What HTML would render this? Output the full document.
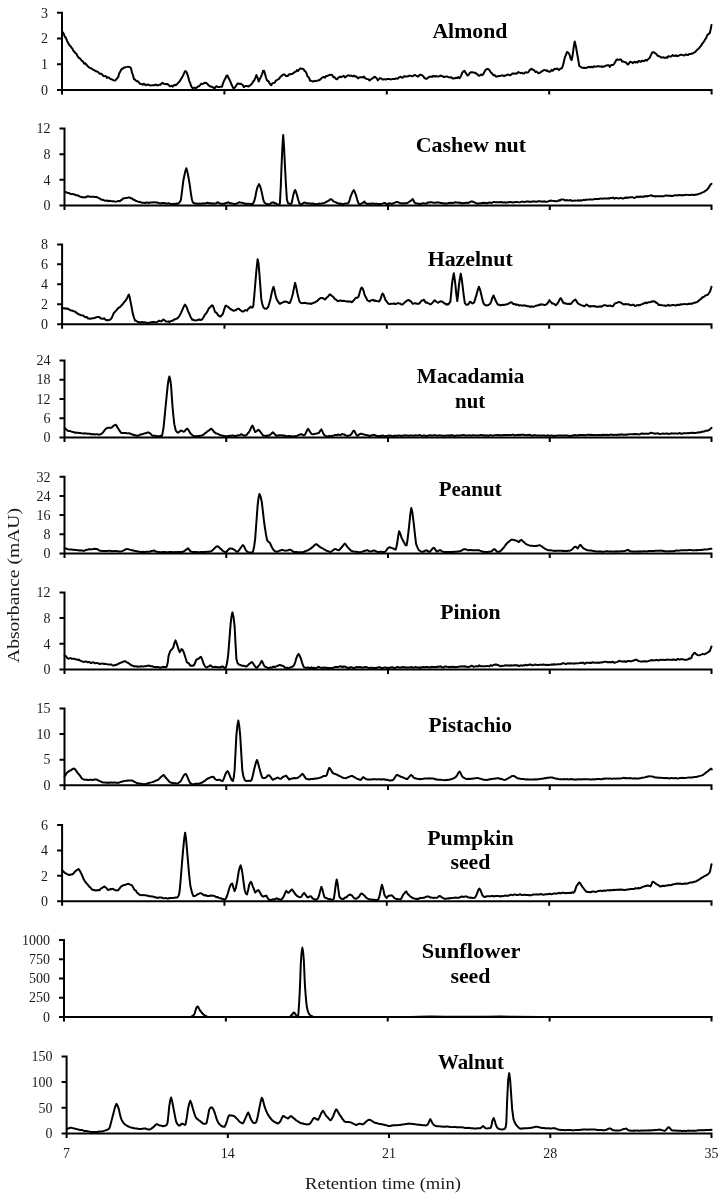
<!DOCTYPE html><html><head><meta charset="utf-8"><style>html,body{margin:0;padding:0;background:#fff;}svg{display:block;}text{}svg{filter:grayscale(1)}</style></head><body>
<svg width="724" height="1200" viewBox="0 0 724 1200">
<rect width="724" height="1200" fill="#fff"/>
<path d="M62 11.8V89.9M57 89.9H712.6M57 64.2H62M57 38.5H62M57 12.8H62M62 89.9V94.5M224.4 89.9V94.5M386.8 89.9V94.5M549.2 89.9V94.5M711.6 89.9V94.5M64.5 127.5V205.5M59.5 205.5H712.5M59.5 179.83H64.5M59.5 154.17H64.5M59.5 128.5H64.5M64.5 205.5V210.1M226.25 205.5V210.1M388 205.5V210.1M549.75 205.5V210.1M711.5 205.5V210.1M62.1 243.4V324.2M57.1 324.2H712.5M57.1 304.25H62.1M57.1 284.3H62.1M57.1 264.35H62.1M57.1 244.4H62.1M62.1 324.2V328.8M224.45 324.2V328.8M386.8 324.2V328.8M549.15 324.2V328.8M711.5 324.2V328.8M64.5 359.4V437.5M59.5 437.5H712.5M59.5 418.23H64.5M59.5 398.95H64.5M59.5 379.67H64.5M59.5 360.4H64.5M64.5 437.5V442.1M226.25 437.5V442.1M388 437.5V442.1M549.75 437.5V442.1M711.5 437.5V442.1M64.5 475.8V553.4M59.5 553.4H712.5M59.5 534.25H64.5M59.5 515.1H64.5M59.5 495.95H64.5M59.5 476.8H64.5M64.5 553.4V558M226.25 553.4V558M388 553.4V558M549.75 553.4V558M711.5 553.4V558M64.5 591.4V669.5M59.5 669.5H712.5M59.5 643.8H64.5M59.5 618.1H64.5M59.5 592.4H64.5M64.5 669.5V674.1M226.25 669.5V674.1M388 669.5V674.1M549.75 669.5V674.1M711.5 669.5V674.1M64.5 707.4V785.3M59.5 785.3H712.5M59.5 759.67H64.5M59.5 734.03H64.5M59.5 708.4H64.5M64.5 785.3V789.9M226.25 785.3V789.9M388 785.3V789.9M549.75 785.3V789.9M711.5 785.3V789.9M62.1 824V901.2M57.1 901.2H712.5M57.1 875.8H62.1M57.1 850.4H62.1M57.1 825H62.1M62.1 901.2V905.8M224.45 901.2V905.8M386.8 901.2V905.8M549.15 901.2V905.8M711.5 901.2V905.8M64 939V1017M59 1017H712.5M59 997.75H64M59 978.5H64M59 959.25H64M59 940H64M64 1017V1021.6M225.88 1017V1021.6M387.75 1017V1021.6M549.62 1017V1021.6M711.5 1017V1021.6M66.6 1055.4V1133.5M61.6 1133.5H712.5M61.6 1107.8H66.6M61.6 1082.1H66.6M61.6 1056.4H66.6M66.6 1133.5V1138.1M227.82 1133.5V1138.1M389.05 1133.5V1138.1M550.27 1133.5V1138.1M711.5 1133.5V1138.1" stroke="#000" stroke-width="2" fill="none"/>
<g class="t" font-family="Liberation Serif" font-size="14" fill="#1a1a1a"><text x="48" y="94.6" text-anchor="end">0</text><text x="48" y="68.9" text-anchor="end">1</text><text x="48" y="43.2" text-anchor="end">2</text><text x="48" y="17.5" text-anchor="end">3</text><text x="50.5" y="210.2" text-anchor="end">0</text><text x="50.5" y="184.53" text-anchor="end">4</text><text x="50.5" y="158.87" text-anchor="end">8</text><text x="50.5" y="133.2" text-anchor="end">12</text><text x="48.1" y="328.9" text-anchor="end">0</text><text x="48.1" y="308.95" text-anchor="end">2</text><text x="48.1" y="289" text-anchor="end">4</text><text x="48.1" y="269.05" text-anchor="end">6</text><text x="48.1" y="249.1" text-anchor="end">8</text><text x="50.5" y="442.2" text-anchor="end">0</text><text x="50.5" y="422.93" text-anchor="end">6</text><text x="50.5" y="403.65" text-anchor="end">12</text><text x="50.5" y="384.37" text-anchor="end">18</text><text x="50.5" y="365.1" text-anchor="end">24</text><text x="50.5" y="558.1" text-anchor="end">0</text><text x="50.5" y="538.95" text-anchor="end">8</text><text x="50.5" y="519.8" text-anchor="end">16</text><text x="50.5" y="500.65" text-anchor="end">24</text><text x="50.5" y="481.5" text-anchor="end">32</text><text x="50.5" y="674.2" text-anchor="end">0</text><text x="50.5" y="648.5" text-anchor="end">4</text><text x="50.5" y="622.8" text-anchor="end">8</text><text x="50.5" y="597.1" text-anchor="end">12</text><text x="50.5" y="790" text-anchor="end">0</text><text x="50.5" y="764.37" text-anchor="end">5</text><text x="50.5" y="738.73" text-anchor="end">10</text><text x="50.5" y="713.1" text-anchor="end">15</text><text x="48.1" y="905.9" text-anchor="end">0</text><text x="48.1" y="880.5" text-anchor="end">2</text><text x="48.1" y="855.1" text-anchor="end">4</text><text x="48.1" y="829.7" text-anchor="end">6</text><text x="50" y="1021.7" text-anchor="end">0</text><text x="50" y="1002.45" text-anchor="end">250</text><text x="50" y="983.2" text-anchor="end">500</text><text x="50" y="963.95" text-anchor="end">750</text><text x="50" y="944.7" text-anchor="end">1000</text><text x="52.6" y="1138.2" text-anchor="end">0</text><text x="52.6" y="1112.5" text-anchor="end">50</text><text x="52.6" y="1086.8" text-anchor="end">100</text><text x="52.6" y="1061.1" text-anchor="end">150</text>
<text x="66.6" y="1158.3" text-anchor="middle">7</text>
<text x="227.82" y="1158.3" text-anchor="middle">14</text>
<text x="389.05" y="1158.3" text-anchor="middle">21</text>
<text x="550.27" y="1158.3" text-anchor="middle">28</text>
<text x="711.5" y="1158.3" text-anchor="middle">35</text>
</g>
<g class="t" font-family="Liberation Serif" font-weight="bold" font-size="22" fill="#000"><text x="432.4" y="38" textLength="75" lengthAdjust="spacingAndGlyphs">Almond</text><text x="415.65" y="151.9" textLength="110.5" lengthAdjust="spacingAndGlyphs">Cashew nut</text><text x="427.7" y="265.5" textLength="85" lengthAdjust="spacingAndGlyphs">Hazelnut</text><text x="416.85" y="382.8" textLength="107.5" lengthAdjust="spacingAndGlyphs">Macadamia</text><text x="455.1" y="408" textLength="30" lengthAdjust="spacingAndGlyphs">nut</text><text x="438.7" y="495.5" textLength="63" lengthAdjust="spacingAndGlyphs">Peanut</text><text x="440.15" y="619.2" textLength="60.5" lengthAdjust="spacingAndGlyphs">Pinion</text><text x="428.55" y="731.9" textLength="83.5" lengthAdjust="spacingAndGlyphs">Pistachio</text><text x="427.15" y="844.8" textLength="86.5" lengthAdjust="spacingAndGlyphs">Pumpkin</text><text x="450.4" y="869" textLength="40" lengthAdjust="spacingAndGlyphs">seed</text><text x="421.85" y="957.8" textLength="98.5" lengthAdjust="spacingAndGlyphs">Sunflower</text><text x="450.4" y="982.6" textLength="40" lengthAdjust="spacingAndGlyphs">seed</text><text x="438" y="1069.2" textLength="66" lengthAdjust="spacingAndGlyphs">Walnut</text></g>
<g class="t" font-family="Liberation Serif" font-size="17.5" fill="#1a1a1a">
<text x="305" y="1188.8" textLength="156" lengthAdjust="spacingAndGlyphs">Retention time (min)</text>
<text transform="translate(19.2 663) rotate(-90)" x="0" y="0" textLength="155" lengthAdjust="spacingAndGlyphs">Absorbance (mAU)</text>
</g>
<path d="M62.3 32L62.83 32.35L63.64 33.51L64.67 36.46L65.86 37.69L67.12 40.8L68.41 43.57L69.64 45.41L70.76 46.5L71.7 47.98L72.4 48.53L73.24 50.75L74.2 51.38L75.25 53.08L76.36 53.58L77.5 56.19L78.65 57.59L79.77 58.39L80.85 59.5L81.85 60.77L82.74 61.48L83.5 62.39L84.25 63.68L85.13 63.29L86.1 64.26L87.14 65.52L88.23 66.69L89.35 67.59L90.47 68.15L91.56 68.56L92.6 69.36L93.57 70.01L94.45 70.12L95.2 70.89L95.96 71.27L96.85 71.41L97.85 71.87L98.93 72.94L100.05 73.87L101.2 73.62L102.34 74.65L103.45 76.09L104.5 76.13L105.46 75.95L106.3 76.61L107 77.93L107.92 77.22L109.01 77.62L110.2 78.93L111.44 79.17L112.68 79.8L113.84 80.36L114.89 80.62L115.76 80.04L116.4 79.12L117.45 77.89L118.36 76.78L119.16 73.3L119.9 72.37L120.68 70.63L121.73 68.93L122.86 68.57L123.88 67.6L124.6 67.58L125.87 67.12L127 66.9L127.95 66.62L129.15 66.91L130 67.13L131 68.22L131.73 71.65L132.5 73.99L133.18 75.96L134 79.15L134.8 79.33L135.91 80.74L137 81.43L137.72 81.04L138.68 82.14L139.79 83.52L140.99 83.96L142.2 84.23L142.8 84.8L143.58 83.73L144.51 83.95L145.56 85.32L146.69 84.86L147.87 84.53L149.05 84.97L150.21 85.4L151.31 85.39L152.32 85.14L153.19 85.13L153.9 85.32L154.8 84.97L155.83 84.49L156.94 85.34L158.11 85.38L159.29 84.64L160.44 84.8L161.51 83.35L162.48 82.86L163.3 83.3L164.14 84L165.15 83.93L166.29 84.25L167.49 83.94L168.71 85.09L169.9 86.14L170.99 86.16L171.95 85.67L172.7 86.62L173.61 85.63L174.66 84.72L175.78 85.35L176.92 84.27L177.99 83.05L178.94 81.81L179.7 81.48L180.58 79.64L181.65 77.99L182.8 75.99L183.92 73.55L184.89 71.42L185.6 71.11L186.5 71.98L187.48 74.69L188.39 77.39L189.1 80.58L190 82.55L191.05 85.77L192 87.44L192.82 88.11L193.92 87.75L195.11 87.86L196.2 88.09L196.91 87.39L197.87 86.57L198.99 86.3L200.17 85.14L201.32 83.67L202.36 83.92L203.2 83.68L204.04 83.05L205.09 82.8L206.25 82.91L207.45 83.92L208.58 85.55L209.56 85.73L210.3 86.51L211.19 86.46L212.16 87.14L213.15 87.32L214.12 88.46L215 87.88L215.76 86.62L216.79 86.22L217.98 87.02L219.21 86.89L220.37 86.78L221.34 86.56L222 86.7L223.37 82.32L224.4 80.08L225.33 78.5L226.52 75.74L227.5 75.57L228.47 77.82L229.64 80.02L230.6 82.15L231.51 84.55L232.62 86.75L233.6 88.44L234.45 87.94L235.58 86.7L236.72 84.72L237.6 83.44L238.4 83.45L239.37 83.93L240.33 83.71L241.1 84.04L241.88 84.43L242.85 85.16L243.85 87.16L244.7 86.49L245.45 86.07L246.46 86.09L247.54 86.2L248.55 86.56L249.3 85.74L250.15 85.36L251.15 84.41L252.12 83.55L252.9 81.63L254.03 80.76L255.38 77.91L256.4 75.06L257.6 77.91L258.7 81.5L259.87 78.86L261.1 76.45L262 74.36L263.16 70.83L264.1 70.71L264.99 73.71L266.07 77.72L267 80.35L267.71 80.94L268.62 81.46L269.6 83.45L270.5 84.48L271.24 85.23L272.27 83.39L273.45 82.89L274.63 82.66L275.66 80.89L276.4 80.46L277.3 79.81L278.28 79.25L279.19 78.6L279.9 77.54L280.83 76.31L281.93 75.72L282.9 74.8L283.75 74.34L284.88 74.71L286.02 76.12L286.9 75.97L287.68 76L288.62 74.84L289.57 74.13L290.4 74.32L291.16 74.04L292.19 73.96L293.3 73.15L294.33 72.38L295.1 71.94L295.96 71.52L296.97 70.16L297.95 71.01L298.7 70.18L299.64 69.01L300.73 68.46L301.7 68.73L302.55 68.66L303.68 69.37L304.82 71.18L305.7 71.67L306.48 73.3L307.42 76.19L308.37 77.08L309.2 77.99L309.95 80.64L310.95 80.69L312.05 81.13L313.08 81.57L313.9 81.26L314.7 80.78L315.71 81.15L316.79 80.87L317.8 80.53L318.6 80.32L319.38 80.28L320.33 79.33L321.37 78.42L322.39 77.35L323.3 77.06L324.05 77.1L325.05 77.66L326.2 75.92L327.41 75.89L328.58 75.32L329.61 74.83L330.4 74.92L331.27 74.64L332.3 75.21L333.4 77.29L334.49 77.07L335.45 78.37L336.2 79.13L337.04 79.32L338.03 77.88L339.06 77.24L340.05 76.6L340.9 77.31L341.67 76.64L342.67 76.43L343.8 75.9L344.93 77.41L345.97 76.87L346.8 75.97L347.63 75.57L348.67 75.34L349.8 75.85L350.93 75.58L351.93 75.96L352.7 76.38L353.55 75.86L354.54 75.61L355.57 76.78L356.56 76.51L357.4 77.78L358.16 78.35L359.14 77.47L360.25 77.35L361.36 77.33L362.38 77.18L363.2 77.48L364.03 76.47L365.06 78.15L366.2 78.69L367.32 79.04L368.33 79.18L369.1 80.24L369.92 80.43L370.86 79.29L371.85 78.79L372.85 78.05L373.8 77.44L374.51 76.79L375.46 77.19L376.57 78.14L377.77 80.39L378.99 79.13L380.15 78.07L381.18 78.51L382 79.03L382.79 79.59L383.74 79.26L384.8 79.27L385.9 79.47L387 79.1L388.03 78.95L388.95 78.9L389.7 79.08L390.54 79.38L391.55 79.33L392.66 78.92L393.79 79.02L394.89 79.04L395.88 78.35L396.7 78.56L397.51 78.66L398.49 77.76L399.58 77.18L400.72 76.75L401.84 77.64L402.89 77.5L403.8 76.49L404.57 76.29L405.54 76.48L406.67 76.47L407.88 76.23L409.13 75.73L410.34 75.76L411.46 76L412.44 76.34L413.2 76.12L414.11 75.1L415.16 75.02L416.28 75.75L417.42 76.47L418.49 76.43L419.44 75.03L420.2 74.67L421.05 74.94L422.03 75.25L423.1 76L424.17 77.61L425.2 78.45L426.1 78.88L426.84 78.57L427.79 78.05L428.88 76.97L430.05 76.82L431.24 76.58L432.38 76.76L433.43 75.82L434.3 76.55L435.09 76.49L436.06 76.02L437.16 76.39L438.34 76.53L439.55 76.07L440.74 75.52L441.87 76.15L442.87 76.32L443.7 77.02L444.54 76.94L445.55 76.62L446.69 76.41L447.89 76.96L449.11 77.21L450.3 77.58L451.39 77.2L452.35 78.34L453.1 78.6L454.02 78.22L455.09 78.22L456.24 77.78L457.39 77.89L458.47 77.14L459.4 78.18L460.1 77.6L461.21 75.42L462.42 72.49L463.54 71.15L464.4 70.82L465.46 72.36L466.64 74.29L467.6 75.58L468.53 75.12L469.66 73.07L470.7 72.22L471.42 72.51L472.39 72.17L473.47 72.64L474.52 72.85L475.4 72.65L476.17 73.63L477.16 74.09L478.27 75.44L479.4 75.72L480.45 74.8L481.3 74.55L482.05 75.14L483.01 74.56L484.08 72.59L485.18 70.49L486.23 69.55L487.13 68.9L487.8 69.02L488.78 69.46L489.83 70.61L490.86 72.54L491.8 73.18L492.51 74.07L493.45 75.29L494.51 74.92L495.63 76.44L496.72 76.37L497.7 76.52L498.42 75.99L499.35 75.99L500.44 75.9L501.63 75.44L502.87 75.45L504.08 76.16L505.23 75.44L506.26 75.34L507.1 74.69L507.93 74.51L508.92 74.86L510.02 75.27L511.2 74.57L512.4 73.37L513.58 73.68L514.68 73.42L515.67 73.53L516.5 73.65L517.34 72.98L518.36 72.12L519.5 72.66L520.72 73.15L521.95 72.74L523.14 73.62L524.23 73.42L525.17 72.28L525.9 72.52L526.91 72.44L528.04 72.45L529.23 70.75L530.37 69.36L531.39 68.83L532.2 69.57L533.12 69.77L534.19 70.19L535.35 71.99L536.51 71.52L537.6 72.44L538.33 73.23L539.32 72.98L540.48 72.42L541.75 71.35L543.05 70.55L544.3 69.9L545.43 70.33L546.35 70.8L547 70.32L548.22 71.39L549.14 71.43L550 71.75L550.72 71.19L551.69 69.85L552.77 70.89L553.82 69.46L554.7 68.87L555.5 69.18L556.57 68.52L557.75 68.97L558.92 69.95L559.92 69.19L560.6 68.38L561.83 68.33L562.9 65.71L563.72 62.29L564.87 57.39L566.03 54.65L566.9 51.98L567.95 52.34L569.14 53.77L570 56.05L570.8 59.13L571.6 59.97L572.51 56.05L573.74 46.91L574.7 41.57L575.89 46.17L577 52.8L578.09 58.85L579.3 66.07L579.94 66.17L580.79 67.09L581.79 67.56L582.9 67.76L583.55 67.97L584.45 67.77L585.52 68.05L586.72 67.86L587.98 67.21L589.23 66.83L590.4 67.4L591.45 66.81L592.3 66.98L593.12 67.36L594.1 66.28L595.2 66.53L596.36 66.69L597.55 66.23L598.72 66.27L599.83 66.5L600.84 66.46L601.7 66.92L602.42 66.37L603.31 66.74L604.31 66.59L605.4 65.68L606.53 65.57L607.67 65.18L608.79 65.25L609.83 66.84L610.77 65.34L611.58 64.92L612.2 65.11L613.22 65.03L614.31 63.52L615.4 61.67L616.45 59.8L617.37 59.52L618.1 59.82L618.96 59.78L619.97 59.53L621.03 59.54L622.01 61.58L622.8 61.2L623.58 61.74L624.54 61.88L625.57 62.51L626.59 62.98L627.5 64.5L628.23 64.3L629.2 63.03L630.31 61.79L631.48 62.11L632.63 63.1L633.67 62.27L634.5 61.73L635.32 62.56L636.34 61.96L637.47 62.56L638.63 60.92L639.76 61.41L640.78 61.94L641.6 60.97L642.44 60.75L643.48 61.2L644.64 60.77L645.82 59.93L646.94 60.55L647.89 59.27L648.6 58.8L649.63 58.06L650.72 55.34L651.75 53.34L652.6 52.21L653.53 52.21L654.72 52.9L655.89 53.76L656.8 54.58L657.57 55.74L658.48 55.93L659.44 56.18L660.4 56.92L661.08 57.62L661.99 57.59L663.07 57.33L664.23 57.62L665.39 57.91L666.47 57.24L667.4 57.78L668.15 56.16L669.11 56.35L670.2 56.65L671.39 56.27L672.61 55.14L673.81 55.95L674.95 55.83L675.96 55.24L676.8 56.2L677.63 56.07L678.63 55.52L679.76 55.22L680.95 54.63L682.16 54.89L683.34 55.38L684.44 55.33L685.41 54.64L686.2 54.29L687.07 54.97L688.12 54.99L689.26 53.93L690.45 54.13L691.62 53.6L692.71 53.49L693.66 52.88L694.4 52.39L695.31 52.02L696.36 50.6L697.45 49.5L698.53 48.71L699.5 47.55L700.3 46.46L701.13 45.81L702.17 43.75L703.3 42.49L704.41 40.77L705.38 38.94L706.1 38.35L707.04 35.44L708.07 34.36L709.03 33.65L709.7 33.17L710.76 29.08L711.5 24.91M65.2 192.3L65.72 192.16L66.57 192.24L67.62 193L68.77 192.88L69.91 193.56L70.92 194.06L71.7 194.13L72.54 194.01L73.57 194.31L74.68 194.41L75.78 195.2L76.79 195.2L77.6 195.61L78.43 195.49L79.47 196.42L80.6 196.85L81.73 197.01L82.73 197.26L83.5 197.49L84.32 197.32L85.26 197.16L86.25 197.14L87.25 196.36L88.2 196.32L88.92 196.54L89.9 196.73L91.06 196.83L92.3 196.8L93.54 196.74L94.7 196.89L95.68 197.02L96.4 196.94L97.35 197.43L98.35 197.93L99.34 198.37L100.28 198.89L101.1 199.5L101.82 199.87L102.72 199.71L103.74 200.12L104.83 200.72L105.94 200.68L107 200.52L107.63 200.71L108.45 201.24L109.43 200.83L110.52 200.89L111.69 201.34L112.9 201.31L114.11 201.46L115.27 201.61L116.35 201.65L117.31 201.36L118.11 200.97L118.7 200.94L119.8 201.19L120.82 200.19L121.76 199.92L122.62 198.98L123.4 198.31L124.18 198.4L125.2 198.09L126.35 198.06L127.5 197.81L128.52 197.56L129.3 197.43L130.15 197.77L131.14 198.27L132.17 198.44L133.16 199.48L134 199.79L134.73 199.97L135.65 200.89L136.69 200.99L137.78 201.6L138.84 201.91L139.8 201.8L140.54 202.18L141.51 202.66L142.66 202.72L143.91 202.74L145.19 202.98L146.43 202.46L147.55 202.5L148.5 203.06L149.2 202.77L150.22 202.49L151.25 202.51L152.25 202.51L153.15 202.35L153.9 202.17L154.65 202.2L155.55 202.42L156.55 202.47L157.58 202.49L158.6 203.11L159.28 203.32L160.2 203.18L161.28 203.46L162.47 203L163.72 202.93L164.95 203.23L166.12 203.58L167.15 203.5L168 203.53L168.85 203.25L169.9 203.64L171.08 204.01L172.33 203.93L173.58 203.66L174.78 204.1L175.86 203.74L176.75 203.48L177.4 203.96L178.49 203.42L179.46 202.58L180.27 201.32L180.9 199.88L182.12 190.62L183.3 180.99L184.21 176.27L185.36 170.96L186.3 168.31L187.18 170.87L188.23 175.96L189.1 180.85L189.99 186.66L191.09 194.79L192 199.8L192.73 201.98L193.67 202.97L195 203.59L195.55 203.43L196.31 203.55L197.24 203.8L198.3 203.66L199.43 203.57L200.61 203.8L201.78 203.64L202.91 203.29L203.95 203.64L204.86 203.62L205.6 203.27L206.49 202.98L207.57 202.79L208.77 202.97L210.03 203.44L211.29 203.31L212.47 203.53L213.53 203.39L214.39 203.58L215 203.53L216.46 203.24L217.3 202.33L218.38 202.53L219.7 203.26L220.46 203.77L221.55 203.81L222.76 203.82L223.88 203.78L224.7 203.92L225.53 203L226.46 203.03L227.39 202.76L228.2 202.21L228.92 202.58L229.87 203.21L230.93 203.28L231.97 203.52L232.9 203.87L233.65 203.85L234.65 203.94L235.8 203.67L237.01 203.36L238.18 202.79L239.21 202.37L240 202.37L240.85 202.65L241.84 202.67L242.9 202.99L243.96 203.24L244.95 203.46L245.8 204.18L246.61 203.77L247.67 203.67L248.88 203.83L250.12 204.04L251.28 204.31L252.24 203.96L252.9 203.78L254.28 201.04L255.2 197.59L256.17 192.29L257.1 188.27L258.04 185.89L259 184.13L260.03 185.99L261.1 189.39L262.24 194.62L263.4 200.28L264.49 202.6L265.8 203.48L266.52 204L267.55 204.37L268.7 204.28L269.75 204L270.5 203.6L271.52 202.77L272.62 202.49L273.5 202.37L274.39 203.15L275.47 203.23L276.4 203.74L277.18 204.53L278.21 204.86L279.21 204.91L279.9 203.07L280.78 186.43L281.5 167.02L282.34 148.05L283.2 135.08L284.09 148.36L285 166.91L285.92 184.27L286.9 199.44L288.08 203.23L289.3 203.54L290.48 204.1L291.6 203.17L292.47 199.18L293.3 195.11L294.19 191.86L295.1 189.95L296.02 191.94L297 195.13L298.16 199.5L299.4 203.47L300.25 203.67L301.32 204.26L302.2 203.86L303.08 203.24L304.15 202.7L305 202.58L305.98 202.92L307.3 203.44L307.89 203.58L308.74 203.24L309.75 203.37L310.85 203.87L311.96 203.49L313 203.37L313.9 204.31L314.67 204.11L315.68 204.11L316.86 204.15L318.13 203.88L319.43 203.58L320.67 203.68L321.77 203.51L322.68 203.34L323.3 203.27L324.79 202.89L325.7 202.15L326.56 201.76L327.64 201.2L328.5 200.89L329.67 199.76L330.8 199.21L331.97 199.62L333.2 201.12L334.12 201.57L335.28 202.05L336.2 202.56L337.28 202.94L338.6 203.4L339.28 203.98L340.27 203.5L341.42 203.79L342.59 203.98L343.63 204.12L344.4 203.69L345.45 203.62L346.68 203.39L347.84 203.46L348.7 202.47L349.66 200.01L350.69 196.31L351.5 194.44L352.67 191.72L353.8 190.11L355 192.47L356.2 195.9L357.3 200.07L358.5 203.36L359.24 204.01L360.25 204.23L361.26 203.72L362 203.2L363.25 202.57L364.4 201.47L365.14 202.79L366.8 204.05L367.33 203.71L368.08 203.73L369.01 203.78L370.08 203.74L371.26 203.86L372.49 203.29L373.75 203.86L375 203.86L376.2 203.78L377.31 203.66L378.28 204.06L379.09 204.21L379.7 203.89L380.93 203.88L382.07 203.66L383.13 203.38L384.1 202.98L385 203.07L385.77 203.43L386.78 204.41L387.93 203.8L389.12 203.28L390.27 203.45L391.26 203.65L392 203.83L392.91 203.43L393.93 203.02L394.96 202.67L395.92 202.13L396.7 201.88L397.48 201.95L398.43 202.32L399.47 202.84L400.49 203.21L401.4 203.27L402.16 203.43L403.18 203.51L404.36 203.2L405.59 203.24L406.76 203.19L407.76 202.66L408.5 202.27L409.6 201.43L410.79 200.8L411.88 199.81L412.7 199.03L413.41 200.01L414.2 202.02L415.5 203.35L416.04 203.47L416.79 203.42L417.71 203.58L418.77 203.78L419.91 203.97L421.11 203.85L422.33 203.33L423.52 203.21L424.65 203.44L425.69 203.67L426.58 203.54L427.3 202.81L428.2 202.53L429.23 202.44L430.35 202.26L431.52 202.23L432.7 202.61L433.84 202.71L434.92 202.78L435.88 202.66L436.7 202.54L437.52 202.25L438.5 202.45L439.6 202.65L440.76 203.04L441.94 202.88L443.1 203.41L444.2 203.51L445.18 203.36L446 203.54L446.82 203.54L447.81 203.23L448.92 202.84L450.1 202.96L451.3 202.86L452.47 203.02L453.58 202.84L454.57 202.55L455.4 202.33L456.23 202.5L457.23 202.56L458.36 202.7L459.55 202.53L460.76 203.07L461.94 203.23L463.04 203.11L464.01 203.15L464.8 202.98L465.69 203L466.75 202.58L467.93 202.95L469.15 202.58L470.34 201.96L471.43 201.38L472.34 201.52L473 201.74L473.85 202.09L474.54 202.33L475.36 202.82L476.6 203.38L477.14 203.37L477.84 203.55L478.7 203.63L479.68 203.28L480.75 203.2L481.9 203L483.09 202.67L484.31 202.91L485.52 202.86L486.71 203.21L487.85 203.12L488.91 202.56L489.87 202.44L490.7 202.88L491.43 202.97L492.26 202.55L493.18 202.09L494.19 202.11L495.25 202.13L496.37 202.31L497.52 202.24L498.69 202.12L499.87 202.26L501.04 202.06L502.19 202.24L503.31 202.57L504.37 202.18L505.36 202.68L506.28 202.5L507.1 202.48L507.8 202.22L508.59 202.23L509.46 202.23L510.4 202.06L511.41 202.12L512.46 202.5L513.56 202.23L514.68 202.23L515.82 201.96L516.97 201.91L518.12 202.12L519.25 202.37L520.35 202.12L521.43 201.64L522.46 201.85L523.43 201.79L524.33 201.89L525.16 201.97L525.9 201.67L526.64 201.28L527.48 201.52L528.4 201.72L529.39 201.52L530.45 201.91L531.54 201.81L532.68 201.31L533.83 201.45L535 201.58L536.17 201.88L537.32 201.46L538.45 201.17L539.55 201.17L540.6 201.61L541.58 201.55L542.5 201.4L543.33 201.81L544.07 201.22L544.7 201.45L545.67 201.78L546.73 201.69L547.87 201.49L549.06 201.08L550.27 200.81L551.47 200.61L552.63 200.88L553.74 201.14L554.75 200.94L555.65 201.33L556.41 201.18L557 201.25L558.15 200.89L559.2 200.13L560.14 200.46L560.98 199.69L561.7 199.39L562.43 199.6L563.27 199.48L564.23 199.9L565.28 200.53L566.4 200.29L566.97 199.97L567.69 200.47L568.55 200.41L569.52 200.2L570.57 200.05L571.68 200.8L572.83 200.7L573.98 200.71L575.12 200.43L576.22 200.63L577.25 200.47L578.2 200.2L578.83 200.84L579.57 200.49L580.42 200.26L581.37 200.53L582.38 200.43L583.47 199.86L584.6 200.14L585.76 199.61L586.95 199.65L588.15 199.62L589.34 199.56L590.51 199.56L591.65 199.4L592.74 199.49L593.77 199.37L594.72 199.06L595.59 198.89L596.35 199.15L597 198.88L597.9 198.93L598.88 199.06L599.92 198.53L601.01 198.61L602.13 198.65L603.25 198.41L604.37 198.4L605.46 198.47L606.51 198.41L607.49 198.59L608.4 198.29L609.21 198.43L609.9 198.35L610.68 197.93L611.53 197.9L612.44 197.76L613.4 197.84L614.39 198.63L615.4 198.02L616.42 197.93L617.45 198.13L618.46 198.43L619.45 198.29L620.4 198.07L621.01 197.82L621.75 198.16L622.6 198.51L623.55 198.4L624.58 197.97L625.68 197.54L626.84 198.03L628.03 197.55L629.24 197.55L630.46 197.35L631.67 197.37L632.85 197.36L634 197.9L635.09 197.74L636.11 197.13L637.05 196.57L637.89 196.72L638.61 197.2L639.2 196.84L640.34 196.57L641.55 196.9L642.79 196.58L644.02 196.81L645.2 196.03L646.28 196.22L647.24 196.44L648.02 195.99L648.6 195.9L650.06 195.63L651 195.16L651.57 195.13L652.29 195.98L653.24 196L654.5 196.21L655.04 196.56L655.77 196.32L656.64 196.36L657.64 196.35L658.73 196.29L659.89 196.26L661.09 196.19L662.29 196.18L663.47 196.28L664.6 195.81L665.65 195.41L666.59 195.44L667.4 195.7L668.14 195.69L669 195.62L669.96 195.81L671 196L672.1 195.74L673.24 196.01L674.4 195.26L675.56 195.35L676.71 195.49L677.82 195.33L678.87 194.83L679.85 195.22L680.73 195.18L681.5 194.93L682.28 195.38L683.19 195.33L684.2 195.1L685.3 194.98L686.46 194.73L687.66 194.87L688.86 195.11L690.05 195.1L691.21 194.8L692.3 194.65L693.31 194.98L694.22 195.03L694.99 194.6L695.6 194.75L696.69 194.47L697.83 194.3L698.96 193.86L700.05 193.45L701.05 193.23L701.91 192.67L702.6 192.39L703.53 192.09L704.61 191.44L705.68 190.68L706.62 190.2L707.3 189.37L708.63 187.69L709.7 185.87L710.71 184.38L711.5 183.79M62.3 307.3L62.87 308.11L63.78 308.42L64.92 308.29L66.18 308.76L67.42 308.44L68.53 309.11L69.4 309.73L70.22 310.24L71.22 310.46L72.33 310.51L73.47 311.17L74.58 311.51L75.58 311.82L76.4 312.79L77.24 313.25L78.29 314.1L79.45 314.46L80.65 315.25L81.78 315.28L82.76 315.4L83.5 315.66L84.39 316.51L85.36 317.24L86.35 317.04L87.32 317.45L88.2 318.57L88.96 318.4L89.99 318.67L91.18 318.63L92.41 318.16L93.57 318.19L94.54 318.1L95.2 317.66L96.5 317.16L97.6 317.1L98.3 317.12L99.3 317.08L100.41 318.19L101.47 318.46L102.3 318.69L103.12 318.77L104.15 318.25L105.25 319.52L106.25 320.26L107 320.3L107.84 320L108.8 320.16L109.74 319.89L110.5 319.43L111.28 318.57L112.25 316.8L113.22 314.29L114 312.76L114.78 311.96L115.75 311.04L116.72 309.95L117.5 308.86L118.27 308.01L119.25 307.45L120.22 306.91L121 305.88L121.82 305.07L122.85 303.96L123.86 302.53L124.6 301.64L125.82 300.24L126.9 298.56L127.88 296.39L128.8 294.53L129.58 296.76L130.4 300.97L131.57 306.87L132.8 313.62L133.9 317.37L135.1 320.68L135.8 320.62L136.75 321.23L137.77 321.97L138.7 321.93L139.39 322.18L140.3 322.56L141.35 322.31L142.45 322.03L143.53 322.43L144.5 322.13L145.23 322.34L146.2 322.64L147.33 323.03L148.56 322.89L149.83 322.56L151.06 322.19L152.2 322.22L153.17 321.97L153.9 322.02L154.89 322.08L156 322.64L157.14 322.02L158.22 321.2L159.13 320.78L159.8 321.03L160.82 321.29L161.79 321.14L162.6 320.1L163.54 319.44L164.71 320.4L165.7 321.42L166.46 321.46L167.43 321.63L168.42 321.37L169.2 321.99L169.96 321.79L170.9 321.02L171.86 320.89L172.7 320.42L173.46 320.21L174.49 319.28L175.61 319.2L176.64 318.48L177.4 318.47L178.23 317.36L179.18 316.37L180.12 314.54L180.9 313.23L181.78 311.2L182.92 308.61L184.05 306.11L184.9 304.66L185.9 305.65L187.04 308.12L188 311.14L188.74 312.62L189.68 314.72L190.66 317.18L191.5 318.27L192.24 319.81L193.21 319.75L194.29 320.24L195.33 320.5L196.2 320.44L196.97 320.08L197.98 320.12L199.1 319.45L200.22 319.81L201.23 320.04L202 319.43L202.85 318.3L203.84 316.73L204.89 314.75L205.88 313.51L206.7 312.52L207.62 310.9L208.83 308.38L210.12 307.3L211.28 306.02L212.1 305.28L213.09 306.1L214.07 309.03L215 311.91L215.75 312.34L216.79 313.06L217.92 314.93L218.96 315.99L219.7 316.39L220.66 316.66L221.67 315.04L222.5 314.66L223.46 311.83L224.64 308.05L225.5 305.78L226.22 305.65L227 306.23L227.7 306.67L228.71 307.32L229.77 308.53L230.6 309.25L231.36 309.34L232.3 310.14L233.27 310.71L234.1 310.65L234.86 310.29L235.89 310.25L237.01 309.15L238.04 308.63L238.8 308.8L239.62 309.58L240.55 310.26L241.48 310.76L242.3 311.41L243.06 311.52L244.09 310.96L245.21 310.15L246.24 310.32L247 310.68L247.85 309.16L248.83 308.33L249.78 307.65L250.5 306.6L251.43 307.53L252.49 307.46L253.3 305.81L254.27 295.99L255.2 284.47L256.4 270.64L257.6 259.23L258.52 263.41L259.4 273.66L260.34 286.34L261.3 299.14L262.23 303.81L263.4 307.43L264.11 307.94L265.16 308.8L266.32 308.79L267.37 307.72L268.1 307.2L269.37 303.08L270.5 298.75L271.4 294.25L272.56 289.47L273.5 286.85L274.39 289.84L275.47 294.96L276.4 298.49L277.15 300.31L278.12 301.42L279.11 303.14L279.9 303.86L280.68 303.24L281.65 303.02L282.62 302.49L283.4 302L284.19 301.63L285.18 301.57L286.16 301.8L286.9 301.7L287.8 302.45L288.83 303.01L289.7 303L290.67 301L291.87 297.51L292.8 294.06L293.98 287.99L295.1 282.86L296.27 287.39L297.5 293.69L298.38 297.52L299.5 301.45L300.5 302.69L301.31 303.02L302.37 303.16L303.5 303.09L304.5 302.81L305.24 303.05L306.24 303.05L307.37 303.54L308.52 303.59L309.57 303.63L310.4 303.33L311.23 303.97L312.27 303.32L313.4 302.8L314.53 302.55L315.53 302.01L316.3 301.38L317.16 301.13L318.17 300.04L319.23 298.98L320.21 298.16L321 298.03L321.81 298.07L322.84 298.02L323.92 298.96L324.93 299.54L325.7 298.73L326.6 297.67L327.67 296.85L328.76 295.57L329.7 294.32L330.56 294.71L331.7 295.75L332.94 296.57L334.1 298.07L335 299.19L335.82 299.43L336.8 300.24L337.85 301.15L338.85 301.07L339.7 300.64L340.47 300.32L341.47 300.9L342.6 301.08L343.73 300.79L344.77 301.13L345.6 301.32L346.44 301.54L347.5 301.27L348.66 301.7L349.79 301.55L350.78 301.61L351.5 302.26L352.39 301.78L353.36 300.75L354.26 299.6L355 298.86L355.78 297.85L356.77 297.86L357.74 297.51L358.5 296.64L359.49 293.15L360.66 289.24L361.6 287.43L362.47 288.22L363.5 290.54L364.4 294.11L365.12 295.94L366.07 297.45L367.05 299.9L367.9 300.59L368.62 300.93L369.57 301.51L370.63 300.51L371.67 300.25L372.6 299.88L373.36 299.84L374.4 300.99L375.6 300.54L376.84 301.13L378.02 301.28L379.01 301.4L379.7 300.79L380.85 298.28L381.88 294.7L382.7 293.58L383.56 294.72L384.6 297.61L385.5 300.06L386.25 300.92L387.24 302.34L388.24 303.37L389 304.07L389.88 303.92L390.93 303.73L392 303.78L392.71 303.71L393.72 303.41L394.88 303.98L396.05 303.88L397.11 303.43L397.9 303.11L398.75 303.28L399.75 303.4L400.79 304.16L401.78 304.51L402.6 304.44L403.51 303.61L404.69 302.41L405.96 301.36L407.13 300.53L408 300.15L408.93 300.07L409.98 300.99L411.04 301.5L412 302.8L412.75 303.81L413.76 303.56L414.9 303.16L416.06 303.41L417.1 303.84L417.9 303.71L418.83 303.83L419.97 302.76L421.16 301.19L422.23 300.39L423 300.27L424.03 299.76L425.1 301.74L426.1 302.75L426.84 302.29L427.86 303.12L428.97 303.43L430.01 304.32L430.8 304.36L431.74 303.39L432.87 302.37L433.97 300.73L434.8 300.32L435.74 301.15L436.8 302.03L437.8 302.75L438.53 302.39L439.53 301.81L440.63 301.24L441.68 301.39L442.5 301.8L443.32 302.3L444.37 303.53L445.47 303.56L446.47 304.72L447.2 304.11L448.29 304.45L449.45 302.92L450.3 301.87L451.15 293.65L451.9 284.76L452.85 278.1L453.8 273.28L454.6 278.31L455.4 284.86L456.35 294.31L457.3 301.03L458.15 293.8L459 284.9L459.9 278.09L460.8 273.62L461.63 278.35L462.5 285.08L463.62 294.5L464.8 302.85L465.95 304.52L467.2 304.82L467.92 304.54L468.9 303.56L469.91 301.86L470.7 302.08L471.49 302.73L472.5 303.43L473.48 303.06L474.2 302.32L475.45 298.16L476.6 294.38L477.75 290.07L478.9 286.72L480.1 289.78L481.3 294.8L482.35 299.36L483.6 303.58L484.32 304.36L485.36 305.05L486.5 305.55L487.55 305.15L488.3 305.09L489.28 304.49L490.3 303.33L491.1 301.87L492.32 297.87L493.5 295.49L494.62 298.06L495.8 300.8L496.65 302.58L497.77 304.48L498.9 304.8L499.61 304.87L500.59 305.4L501.73 305.08L502.88 304.81L503.92 304.92L504.7 304.74L505.58 304.51L506.65 304.41L507.74 304.08L508.71 303.66L509.4 302.85L510.65 302.35L511.8 302.47L512.71 303.53L513.94 304.1L515.3 304.29L515.96 304.87L516.87 304.58L517.95 304.77L519.14 305.56L520.36 305.21L521.54 305.38L522.61 305.71L523.5 305.32L524.3 305.31L525.29 305.7L526.42 305.82L527.63 306.17L528.86 306.26L530.06 306.96L531.17 306.24L532.14 306.87L532.9 306.72L533.81 306.75L534.86 306.14L535.98 305.8L537.12 305.45L538.21 305.25L539.19 304.75L540 305.07L540.85 304.31L541.92 304.48L543.1 304.59L544.3 305L545.42 304.89L546.35 304.24L547 303.91L548.38 302.18L549.4 300.11L550.21 301.43L551.24 302.31L552.2 303.61L553.1 303.43L554.35 304.09L555.62 305.32L556.6 304.51L557.52 303.41L558.64 301.61L559.74 299.28L560.6 298.17L561.36 299.11L562.27 300.74L563.21 302.73L564.1 302.82L564.83 303.63L565.82 303.33L566.97 303.72L568.13 304.08L569.18 303.62L570 304.06L570.96 303.78L572.16 302.29L573.41 300.78L574.55 300.08L575.4 299.44L576.33 300.82L577.38 302.64L578.42 303.87L579.3 304.17L580.09 304.67L581.15 305.12L582.28 305.5L583.29 305.63L584 306.25L585.25 305.66L586.4 304.53L587.06 304.82L587.94 305.6L588.93 306.1L589.9 306.61L590.58 306.04L591.51 306.16L592.61 306.23L593.79 306.09L594.97 306.26L596.07 306.86L597 306.53L597.77 306.71L598.76 306.88L599.9 306.17L601.13 306.74L602.38 306.19L603.6 305.3L604.72 305.25L605.67 305.33L606.4 305.57L607.35 305.96L608.39 305.77L609.45 305.68L610.48 305.53L611.42 306.04L612.2 306.21L613.03 306.24L614.06 304.56L615.2 303.21L616.32 302.98L617.33 302.61L618.1 302.22L618.93 301.91L619.9 302.33L620.91 302.59L621.91 303.28L622.8 304L623.53 304.37L624.5 304.41L625.61 303.99L626.78 304.21L627.93 304.3L628.97 304.39L629.8 304.95L630.61 305.16L631.59 304.99L632.68 304.71L633.82 304.85L634.94 305.95L635.99 305.64L636.9 305.26L637.67 305.22L638.65 305.07L639.79 305.3L641.01 304.52L642.26 304.11L643.48 303.49L644.6 303L645.56 302.55L646.3 303.28L647.3 302.87L648.41 302.23L649.57 302.15L650.7 301.91L651.74 301.45L652.6 301.67L653.36 301.21L654.31 301.36L655.37 302.28L656.47 302.75L657.52 303.31L658.46 304.93L659.2 305.07L659.99 304.67L660.89 305.14L661.87 305.22L662.91 305.37L663.96 305.52L665 305.5L665.61 305.98L666.38 305.65L667.29 305.4L668.3 304.77L669.39 305.81L670.54 305.38L671.7 305.2L672.85 305.05L673.97 305.09L675.02 305.4L675.97 305.56L676.8 304.78L677.53 304.92L678.41 304.73L679.41 304.93L680.51 304.31L681.67 304.53L682.88 304.28L684.11 304.12L685.32 304.12L686.5 304.32L687.61 304.15L688.64 303.82L689.54 304.03L690.31 303.69L690.9 303.6L692.06 303.87L693.19 303.04L694.27 302.84L695.24 302.8L696.1 302.17L696.8 302.25L697.66 301.61L698.67 300.67L699.72 299.69L700.67 299.28L701.4 298.62L702.26 297.25L703.28 297.22L704.26 296.7L705 295.83L705.93 295.22L706.98 295.02L707.8 294.72L709.01 292.96L710.1 291.36L711.5 286.79M64.7 428.3L65.26 428.29L66.19 429.39L67.25 430.32L68.2 430.94L68.89 431.13L69.82 430.99L70.89 431.36L72.02 431.7L73.12 431.91L74.1 432.2L74.82 432.77L75.75 432.6L76.84 432.67L78.03 432.83L79.27 433.1L80.48 433.07L81.63 433.36L82.66 433.55L83.5 433.5L84.33 433.35L85.33 433.57L86.46 433.56L87.65 433.82L88.86 433.67L90.04 433.78L91.14 434.19L92.11 434.17L92.9 434.08L93.79 434.2L94.88 434.39L96.07 434.34L97.31 434.28L98.51 434.64L99.59 434.53L100.48 434.21L101.1 434.09L102.5 432.95L103.4 431.81L104.49 430.4L105.8 428.91L106.53 428.39L107.58 427.86L108.73 427.78L109.78 427.7L110.5 427.94L111.73 427.45L112.8 426.52L113.64 425.62L114.7 425.09L115.6 424.68L116.56 425.77L117.74 427.95L118.7 429.28L119.52 430.75L120.5 431.95L121.5 433.02L122.32 433.05L123.47 433.02L124.77 433.03L125.98 432.98L126.9 433.22L127.74 433.38L128.75 433.24L129.81 433.53L130.8 433.8L131.6 434.36L132.4 434.42L133.41 434.78L134.49 435.25L135.5 435.31L136.3 435.75L137.08 435.53L138.04 435.8L139.07 435.3L140.09 434.53L141 434.54L141.75 434.41L142.75 434.03L143.9 433.63L145.1 433.34L146.25 433.21L147.25 432.65L148 432.39L148.89 432.53L149.89 433.27L150.9 434.08L151.87 435.18L152.7 435.83L153.49 435.79L154.54 435.87L155.7 435.87L156.86 436.13L157.87 436.32L158.6 436.55L159.53 436.14L160.55 435.82L161.47 435.9L162.1 435.43L163.5 428.08L164.57 417.35L165.7 405.47L166.78 394.81L167.8 384.88L168.62 379.17L169.4 376.42L170.21 379.47L171 385.04L172.4 404.97L173.35 415.64L174.3 424.13L175.7 430.21L176.78 431.87L178 432.67L178.87 432.15L179.98 431.2L180.9 430.61L181.79 430.75L182.87 431.33L183.8 431.7L184.56 431.35L185.55 430.02L186.54 428.92L187.3 428.69L188.25 429.76L189.35 431.59L190.3 433.18L190.99 433.92L191.87 434.61L192.84 435.61L193.8 435.95L194.51 435.94L195.51 436.14L196.68 436.25L197.92 435.99L199.11 436.08L200.14 435.7L200.9 435.68L201.8 435.53L202.8 434.88L203.81 434.46L204.77 433.61L205.6 432.86L206.38 432.36L207.4 431.43L208.55 430.72L209.68 429.95L210.67 429.02L211.4 428.7L212.29 429.64L213.25 430.72L214.18 432.07L215 432.49L215.76 433.35L216.76 433.59L217.85 433.78L218.88 434.52L219.7 434.86L220.49 435.26L221.46 435.35L222.51 435.68L223.53 435.82L224.4 435.93L225.2 436.19L226.26 436.17L227.45 436.14L228.65 435.93L229.74 435.8L230.6 435.87L231.43 435.77L232.45 435.36L233.57 435.62L234.66 436.01L235.64 435.91L236.4 435.77L237.25 435.45L238.27 435.36L239.32 435.18L240.31 434.9L241.1 434.31L241.92 434.5L242.95 435.15L244.05 435.54L245.05 435.62L245.8 435.51L246.64 434.77L247.62 433.5L248.56 432.59L249.3 431.65L250.29 429.59L251.46 427.04L252.4 425.61L253.27 427.06L254.3 429.9L255.2 432.03L255.96 431.51L256.97 430.94L257.97 429.96L258.7 429.84L259.95 431.24L261.1 432.84L262.1 434.18L263.4 435.87L264.09 435.82L265.11 435.66L266.3 436.04L267.5 435.41L268.55 435.73L269.3 435.41L270.19 434.66L271.15 434L272.06 432.99L272.8 432.38L273.58 432.9L274.55 434.01L275.55 434.94L276.4 435.89L277.09 435.66L277.96 435.55L278.95 435.34L279.99 435.42L281 435.26L281.69 435.39L282.62 435.32L283.74 435.7L284.96 435.62L286.23 436.15L287.47 436.21L288.63 436.12L289.62 436.08L290.4 436.32L291.33 436.24L292.43 436.13L293.61 436.51L294.79 436.17L295.89 436.05L296.82 435.97L297.5 435.64L298.45 435.11L299.41 434.7L300.28 434.6L301 434.09L301.78 434.36L302.75 434.8L303.72 435.41L304.5 435.13L305.27 434.13L306.25 431.96L307.22 429.99L308 428.91L308.8 429.62L309.8 431.42L310.8 433.07L311.6 433.89L312.38 434.34L313.35 434.35L314.33 434.01L315.1 433.86L315.89 433.62L316.88 433.42L317.86 433.23L318.6 433.13L319.5 431.91L320.53 430.35L321.4 429.37L322.31 431.11L323.44 433.94L324.5 435.25L325.22 435.71L326.19 436.24L327.28 436.45L328.33 436.13L329.2 435.85L329.95 436.24L330.91 436.14L332 435.76L333.1 435.74L334.13 435.37L335 434.96L335.79 434.98L336.82 435.1L337.99 434.51L339.2 434.82L340.35 435.04L341.35 434.64L342.1 434.04L343.02 434.32L344.05 434.52L345.09 434.97L346.04 435.61L346.8 435.65L347.78 435.79L348.98 435.59L350.15 435.14L351 434.38L351.94 433.26L352.95 431.37L353.8 430.64L354.73 431.41L355.88 434.04L356.9 435.5L357.75 435.65L358.88 434.72L360.02 434L360.9 433.83L361.68 433.82L362.62 434.14L363.57 434.53L364.4 434.6L365.15 434.8L366.15 435.09L367.25 435.32L368.28 435.56L369.1 435.8L369.92 435.98L370.95 435.5L372.05 435.26L373.05 435.14L373.8 434.83L374.48 435.02L375.2 435.21L376.09 435.83L377.3 436.14L377.82 436.1L378.5 436.12L379.32 436.12L380.25 436.03L381.27 435.82L382.36 435.54L383.5 435.82L384.66 436.12L385.82 436L386.95 435.89L388.04 435.61L389.07 435.78L390 435.47L390.63 435.87L391.36 435.84L392.19 436.19L393.1 436.03L394.08 435.77L395.12 435.7L396.21 435.83L397.34 435.71L398.5 435.52L399.68 435.58L400.86 435.9L402.04 435.66L403.21 435.45L404.34 435.48L405.44 435.37L406.49 435.4L407.49 435.49L408.41 435.65L409.25 435.73L410 435.55L410.74 435.52L411.57 435.52L412.46 435.59L413.42 435.67L414.44 435.47L415.5 435.22L416.59 435.39L417.71 435.4L418.85 435.23L420 435.01L421.15 435.87L422.29 435.75L423.41 435.48L424.5 435.49L425.56 435.8L426.58 436.06L427.54 435.72L428.43 435.54L429.26 435.36L430 435.41L430.74 435.33L431.57 435.41L432.46 435.46L433.42 435.45L434.44 435.18L435.5 435.17L436.59 435.49L437.71 435.65L438.85 435.36L440 435.42L441.15 435.45L442.29 435.66L443.41 435.85L444.5 435.85L445.56 435.66L446.58 435.48L447.54 435.55L448.43 435.37L449.26 435.8L450 435.95L450.74 435.2L451.57 435.05L452.46 435.69L453.42 435.56L454.44 435.7L455.5 435.96L456.59 435.42L457.71 435.41L458.85 435.43L460 435.66L461.15 435.21L462.29 435.16L463.41 435.03L464.5 435.25L465.56 435.52L466.58 435.53L467.54 435.43L468.43 435.4L469.26 435.18L470 435.39L470.74 435.55L471.57 435.71L472.46 435.26L473.42 435.26L474.44 435.37L475.5 435.38L476.59 435.43L477.71 435.61L478.85 435.59L480 435.28L481.15 435.04L482.29 435.25L483.41 435.21L484.5 435.87L485.56 435.43L486.58 435.36L487.54 435.51L488.43 435.98L489.26 435.46L490 435.17L490.74 435.14L491.57 435.32L492.46 435.64L493.42 435.55L494.44 435.28L495.5 435.12L496.59 434.92L497.71 435.14L498.85 435.08L500 435.14L501.15 435.18L502.29 435.41L503.41 434.97L504.5 434.95L505.56 435.22L506.58 435.04L507.54 435.03L508.43 434.97L509.26 435.14L510 435L510.74 435.14L511.57 434.96L512.46 434.67L513.42 434.72L514.44 435.32L515.5 435.32L516.59 435.12L517.71 435.12L518.85 434.84L520 434.89L521.15 434.75L522.29 434.85L523.41 434.76L524.5 435.07L525.56 435.11L526.58 435.31L527.54 435.1L528.43 434.96L529.26 434.78L530 435.12L530.74 435.18L531.56 435.44L532.44 435.66L533.38 435.33L534.38 435.05L535.42 435.53L536.49 435.57L537.59 435.46L538.72 435.46L539.85 435.43L540.98 435.69L542.11 435.57L543.23 435.5L544.32 435.59L545.39 435.72L546.42 435.83L547.4 435.57L548.33 435.32L549.2 435.73L550 435.9L550.67 435.59L551.42 435.46L552.24 435.7L553.12 435.73L554.06 435.89L555.04 435.72L556.07 435.86L557.13 435.61L558.22 435.48L559.33 435.44L560.46 435.55L561.6 435.53L562.74 435.79L563.87 435.47L564.99 435.41L566.1 435.55L567.18 435.4L568.23 435.66L569.24 436L570.21 435.72L571.12 435.89L571.98 435.92L572.78 435.22L573.5 435.31L574.22 435.55L575.01 435.08L575.86 435.25L576.76 435.47L577.72 435.32L578.72 434.99L579.75 435.29L580.81 435.07L581.9 435L583.01 435.24L584.13 434.96L585.25 435.15L586.38 435.08L587.5 434.84L588.61 434.78L589.69 435.08L590.76 434.68L591.79 435.03L592.79 434.89L593.74 435.19L594.64 435.02L595.49 435.12L596.28 435.28L597 435.06L597.75 435.01L598.58 435.06L599.47 434.96L600.42 435.2L601.42 434.91L602.46 434.71L603.54 434.98L604.66 434.76L605.79 434.91L606.95 434.84L608.12 435.05L609.28 434.92L610.45 434.61L611.61 434.64L612.74 434.71L613.86 435.02L614.94 434.87L615.98 434.69L616.98 434.94L617.93 434.76L618.82 434.4L619.65 434.87L620.4 434.8L621.13 434.33L621.95 434.48L622.85 434.72L623.81 434.73L624.84 434.72L625.92 434.46L627.04 434.67L628.19 434.35L629.37 434.21L630.57 434.35L631.77 434.3L632.97 434.32L634.16 434.01L635.32 434.32L636.46 434.02L637.56 434.33L638.61 434.38L639.61 434.3L640.54 433.84L641.4 433.79L642.17 433.3L642.85 433.74L643.43 433.79L643.9 433.66L645.57 433.72L646.72 433.74L647.52 433.77L648.09 433.6L648.6 433.76L649.53 433.41L650.5 432.95L651.4 432.65L652.16 433.08L653.16 433.19L654.36 433.41L655.7 433.65L656.24 433.47L656.93 433.43L657.74 433.26L658.65 433.67L659.65 434.16L660.71 433.88L661.82 433.73L662.96 433.58L664.1 433.76L665.24 433.7L666.34 433.58L667.4 433.46L667.97 433.96L668.65 433.97L669.42 433.64L670.28 433.81L671.22 433.26L672.23 433.61L673.29 433.43L674.41 433.46L675.56 433.51L676.74 433.45L677.94 433.65L679.15 433.07L680.36 433.3L681.56 433.93L682.74 433.51L683.89 433.14L685.01 433.26L686.07 433.33L687.08 433.13L688.02 433.07L688.88 433.18L689.65 433.05L690.33 433.05L690.9 432.8L691.95 432.74L693.05 433.01L694.17 432.86L695.3 433.06L696.42 432.63L697.52 432.63L698.57 432.2L699.57 432.45L700.48 432.36L701.31 431.91L702.02 431.79L702.6 431.83L703.68 431.6L704.81 431.21L705.93 430.62L706.97 430.78L707.85 430.53L708.5 430.31L709.66 429.58L710.8 428.57L711.5 427.81M64.7 548.3L65.23 548.42L66.06 548.46L67.11 549L68.28 549.3L69.5 549.44L70.66 549.48L71.7 549.58L72.36 549.77L73.2 549.82L74.2 549.79L75.31 550.04L76.49 550.1L77.7 550.14L78.91 550.4L80.07 550.27L81.15 550.5L82.11 550.61L82.91 550.74L83.5 550.82L84.58 550.66L85.55 550.2L86.45 549.86L87.32 549.78L88.2 549.52L88.92 549.28L89.9 549.22L91.06 549.39L92.3 549.15L93.54 548.89L94.7 548.83L95.68 549.06L96.4 548.98L97.3 549.17L98.19 549.69L99.11 550.35L100.07 550.72L101.1 550.82L101.7 550.88L102.49 550.9L103.43 550.97L104.49 550.89L105.62 550.95L106.78 550.96L107.94 550.93L109.05 550.87L110.07 550.82L110.97 551L111.7 551.15L112.57 551.15L113.61 550.99L114.75 551.12L115.95 551.1L117.16 551.15L118.32 551.19L119.38 551.4L120.29 551.39L121 551.4L121.97 551.13L123.04 550.7L124.15 550.13L125.21 549.53L126.16 549.17L126.9 549.03L127.72 549.12L128.66 549.34L129.65 549.61L130.65 549.91L131.6 550.22L132.3 550.33L133.23 550.46L134.31 550.81L135.49 551.12L136.7 551.22L137.86 551.51L138.92 551.58L139.8 551.86L140.61 551.88L141.62 551.89L142.78 551.8L144.02 551.95L145.28 551.93L146.49 551.87L147.59 551.86L148.51 551.75L149.2 551.64L150.22 551.44L151.25 551.06L152.25 550.9L153.15 550.65L153.9 550.52L154.55 550.75L155.24 551.15L156.08 551.59L157.16 551.83L158.6 551.99L159.12 552.06L159.79 552.17L160.6 552.17L161.53 552.15L162.55 551.95L163.67 552.07L164.84 552.11L166.07 552.25L167.32 552.14L168.58 552.09L169.83 551.99L171.06 551.93L172.24 552.08L173.36 552.24L174.4 552.23L175.35 552.07L176.17 552.1L176.86 552.17L177.4 552.07L178.75 552.09L179.94 552.11L180.97 552.11L181.86 551.99L182.63 551.71L183.3 551.69L184.17 551.27L185.21 550.42L186.29 549.71L187.26 548.85L188 548.29L188.74 548.93L189.54 550.21L190.45 551.2L191.5 551.86L192.15 551.87L193.04 551.99L194.12 552.1L195.32 551.98L196.57 552.04L197.82 552.17L199 552.27L200.05 552.28L200.9 552.05L201.75 552.06L202.8 552.06L203.98 552L205.23 551.91L206.48 551.82L207.68 551.75L208.76 551.69L209.65 551.44L210.3 551.47L211.37 551.14L212.31 550.47L213.12 549.61L213.8 548.94L214.58 548.27L215.55 547.32L216.52 546.56L217.3 546.18L218.09 546.51L219.09 547.34L220.06 548.36L220.8 548.9L221.69 549.7L222.7 550.71L223.5 551.37L224.64 551.91L225.9 552.11L226.71 551.48L227.82 550.17L228.98 549.02L229.9 548.47L230.83 548.56L232.02 548.65L233.2 549.23L234.1 549.76L234.88 550.24L235.8 550.98L236.74 551.76L237.6 551.77L238.47 550.83L239.67 549.37L240.98 547.46L242.17 545.78L243 545.12L244.02 546.16L245.02 548.55L245.8 550.16L246.92 551.36L248.2 552.08L248.93 552.42L249.98 552.56L251.13 552.55L252.18 552.4L252.9 551.77L254.15 546.5L255.2 538.53L256.42 521.97L257.6 505.64L258.5 498.05L259.4 493.91L260.58 496.44L261.8 502.05L262.93 511.64L264.1 521.99L264.97 528.01L266.08 534.88L267 539.68L267.93 541.42L269.07 542.23L270 543.04L270.86 544.97L271.89 547.26L272.8 548.87L273.54 549.93L274.52 550.83L275.54 551.49L276.4 551.8L277.13 551.79L278.08 551.32L279.13 550.86L280.14 550.42L281 550.21L281.79 550.04L282.83 550.06L284 550.39L285.16 550.66L286.17 550.62L286.9 550.58L287.79 550.47L288.75 550.01L289.66 549.67L290.4 549.71L291.12 550.09L291.99 550.73L292.97 551.46L294 552L294.68 552.01L295.63 551.93L296.77 552.03L298 552.18L299.25 552.13L300.42 552.19L301.44 552.15L302.2 552.22L303.12 552.02L304.19 551.74L305.3 551.27L306.37 550.73L307.3 550.56L308 550.3L308.9 549.84L309.87 548.95L310.81 548.51L311.6 547.86L312.51 547.15L313.68 546.05L314.87 544.86L315.8 544.26L316.69 544.35L317.78 545.13L318.88 546.11L319.8 546.83L320.56 547.27L321.54 547.85L322.6 548.36L323.63 549.03L324.5 549.52L325.28 549.94L326.31 550.59L327.45 550.95L328.6 551.4L329.62 551.85L330.4 552L331.26 551.53L332.27 550.84L333.32 549.98L334.27 549.32L335 549.01L335.85 549.13L336.85 549.6L337.82 550.01L338.6 550.34L339.39 549.92L340.38 548.77L341.36 547.59L342.1 546.78L343 545.57L344.03 544.28L344.9 543.62L345.81 544.55L346.94 546.4L348 547.64L348.69 548.33L349.61 549.26L350.66 550.31L351.72 550.99L352.7 551.32L353.42 551.39L354.39 551.63L355.53 551.79L356.75 551.82L357.98 552.11L359.14 552.15L360.14 552.14L360.9 552.1L361.82 551.84L362.89 551.42L364 551.02L365.07 550.71L366 550.46L366.7 550.22L367.61 550.36L368.6 550.83L369.54 551.21L370.3 551.5L371.08 551.34L372.05 551.1L373.03 550.71L373.8 550.61L374.51 550.58L375.37 551.01L376.32 551.39L377.3 551.88L377.96 551.9L378.89 551.88L380 551.83L381.2 551.85L382.4 551.98L383.49 552L384.39 551.91L385 551.85L386.38 550.36L387.3 548.85L388.45 547.86L389.7 547.25L390.44 547.54L391.45 547.91L392.46 548.22L393.2 548.37L394.48 549.24L395.6 549.6L396.42 546.93L397.2 543.07L398.12 536.58L399.1 531.2L400.23 533.51L401.4 537.33L402.58 539.76L403.8 542.04L404.67 543.6L405.77 545.35L406.6 545.36L407.55 539.74L408.5 531.47L409.34 523.61L410.43 513.44L411.3 507.95L412.47 513.08L413.6 522.09L414.77 532.93L416 543.34L416.89 546.21L418.02 548.71L419 550.28L419.77 550.77L420.78 551.39L421.8 551.72L422.6 551.77L423.38 551.52L424.35 551.03L425.33 550.53L426.1 550.37L426.87 550.4L427.82 551.06L428.79 551.67L429.6 551.84L430.52 551.13L431.73 549.63L432.92 548.27L433.8 547.71L434.75 548.46L435.8 550.47L436.7 551.52L437.45 551.49L438.42 550.75L439.41 550.3L440.2 550.18L440.84 550.46L441.59 551.01L442.52 551.5L443.7 551.92L444.26 551.92L445.04 551.88L445.99 552.02L447.07 551.89L448.23 552.09L449.44 552L450.66 552.03L451.85 551.98L452.95 551.93L453.94 551.82L454.77 551.77L455.4 551.7L456.47 551.66L457.6 551.38L458.71 551.39L459.74 551.11L460.62 550.96L461.3 550.72L462.19 550.22L463.15 549.45L464.06 549.16L464.8 549.18L465.48 549.26L466.29 549.5L467.26 549.91L468.4 550.32L468.98 550.22L469.78 549.98L470.76 549.95L471.87 550.22L473.05 550.25L474.26 550.17L475.44 550.23L476.54 550.22L477.52 550.19L478.32 550.12L478.9 550.23L479.94 550.65L480.75 550.92L481.5 551.26L482.4 551.7L483.1 551.86L484.08 551.81L485.27 551.94L486.55 551.94L487.83 551.95L489.02 551.74L490 551.66L490.7 551.71L491.72 551.2L492.68 550.33L493.53 549.53L494.2 549.06L495.16 549.62L496.29 550.98L497.2 551.74L498.06 551.75L499.09 551.7L500 551.33L500.76 550.67L501.77 549.86L502.79 548.57L503.6 547.81L504.36 546.79L505.3 545.29L506.27 544.07L507.1 543.04L507.85 542.39L508.85 541.76L509.95 540.8L510.98 539.97L511.8 539.58L512.63 539.71L513.69 539.87L514.81 540.18L515.8 540.6L516.5 540.64L517.74 541.53L518.8 542L519.59 541.22L520.59 540.2L521.5 539.85L522.3 540.64L523.39 541.65L524.51 542.6L525.4 543.54L526.25 544.13L527.31 544.68L528.42 545.08L529.4 545.42L530.15 545.63L531.17 545.63L532.32 545.85L533.48 546L534.51 546.01L535.3 546.08L536.17 546.02L537.21 545.69L538.29 545.48L539.26 545.24L540 545.26L540.82 545.77L541.75 546.27L542.68 547.14L543.5 547.79L544.23 548.22L545.18 548.76L546.24 549.33L547.29 549.92L548.2 550.27L548.92 550.23L549.86 550.36L550.94 550.3L552.08 550.57L553.2 550.66L554.2 550.79L555 550.93L555.78 550.75L556.71 550.71L557.75 550.78L558.82 550.72L559.88 550.76L560.86 550.78L561.7 550.77L562.5 550.89L563.54 550.76L564.73 550.89L565.99 550.95L567.23 550.9L568.37 550.78L569.32 550.83L570 550.62L571.03 550.14L572.01 549.52L572.86 548.63L573.5 547.73L574.72 546.94L575.8 546.62L576.75 547.67L577.7 548.52L578.86 546.49L580.1 544.85L580.9 545.24L581.92 546.64L582.9 547.84L583.57 548.28L584.46 548.8L585.49 549.33L586.56 549.95L587.6 550.21L588.25 550.36L589.07 550.42L590.04 550.52L591.12 550.58L592.27 550.82L593.47 550.93L594.68 551.21L595.87 551.34L597 551.39L597.59 551.38L598.31 551.51L599.15 551.51L600.08 551.36L601.11 551.56L602.2 551.76L603.35 551.66L604.53 551.6L605.74 551.36L606.96 551.2L608.17 551.33L609.35 551.43L610.5 551.42L611.59 551.57L612.62 551.41L613.55 551.63L614.39 551.51L615.11 551.34L615.7 551.38L616.84 551.33L618.04 551.43L619.28 551.46L620.5 551.32L621.67 551.32L622.75 551.15L623.71 551.11L624.51 550.95L625.1 550.83L626.34 550.47L627.26 550.04L628 549.73L628.67 550.16L629.55 550.93L631 551.35L631.53 551.47L632.23 551.39L633.08 551.52L634.06 551.51L635.13 551.62L636.27 551.54L637.45 551.43L638.65 551.43L639.83 551.28L640.98 551.44L642.06 551.4L643.04 551.35L643.9 551.36L644.57 551.23L645.37 551.26L646.28 551.38L647.28 551.32L648.35 551.11L649.47 551.04L650.63 551.09L651.82 550.88L653 550.98L654.17 550.9L655.3 550.68L656.38 550.71L657.39 550.68L658.32 550.63L659.14 550.67L659.84 550.67L660.4 550.56L661.52 550.66L662.56 550.73L663.53 551.09L664.47 551.25L665.42 551.1L666.38 551.32L667.4 551.49L668.01 551.36L668.78 551.27L669.69 551.35L670.7 551.36L671.79 551.31L672.95 551.19L674.14 550.98L675.34 550.79L676.54 550.45L677.7 550.52L678.8 550.63L679.81 550.4L680.72 550.31L681.5 550.17L682.27 550.13L683.17 550.24L684.17 550.18L685.25 550.15L686.39 550.24L687.57 550.2L688.76 550.12L689.94 550.12L691.08 550.05L692.18 550.2L693.2 550.38L694.13 550.26L694.93 550.26L695.6 550.18L696.58 550.11L697.68 550.18L698.84 550.09L700.04 550.04L701.22 550.03L702.35 549.65L703.38 549.63L704.28 549.55L705 549.55L705.9 549.45L706.97 549.38L708.1 549.17L709.21 548.9L710.2 548.73L711 548.63L711.5 548.63M64.7 655.6L65.23 656.04L66.09 656.3L67.13 657.97L68.2 658.65L68.85 658.51L69.73 658.18L70.78 658.23L71.94 658.77L73.14 658.87L74.33 658.7L75.43 659.37L76.4 659.42L77.06 659.4L77.87 660.06L78.8 659.63L79.82 660.36L80.91 660.79L82.04 661.35L83.18 661.83L84.32 661.9L85.41 661.5L86.44 661.57L87.38 662.35L88.2 662.27L88.92 661.88L89.76 662.12L90.71 663.08L91.74 662.76L92.84 662.37L93.98 662.47L95.15 663.34L96.32 663.12L97.48 663.1L98.59 663.47L99.66 664.03L100.64 663.88L101.53 663.48L102.3 663.6L103.08 663.64L104.01 663.92L105.05 663.81L106.17 664.13L107.36 664.33L108.58 664.42L109.81 664.42L111.02 664.43L112.19 665.08L113.28 665.62L114.28 665.54L115.15 664.91L115.86 665.06L116.4 664.68L117.68 664.27L118.56 663.59L119.24 663.45L119.9 662.94L120.66 662.79L121.69 662.31L122.81 661.93L123.84 661.53L124.6 661.17L125.44 661.47L126.4 661.99L127.34 662.55L128.1 662.9L128.84 663.32L129.75 664.03L130.71 664.98L131.6 665.43L132.28 665.43L133.16 665.99L134.19 666.4L135.3 666.16L136.43 666.5L137.5 666.26L138.11 666.8L138.91 666.66L139.85 666.56L140.9 666.18L142.03 666.53L143.2 666.44L144.38 666.22L145.53 666.21L146.62 665.96L147.62 665.73L148.49 665.65L149.2 665.45L150.1 666.07L151.14 666.25L152.27 666.31L153.46 666.71L154.65 667.1L155.8 667.33L156.87 667.09L157.82 667.01L158.6 667.21L159.49 667.5L160.59 667.49L161.79 667.43L163.04 666.8L164.24 667.08L165.32 667.03L166.2 667.18L166.8 666.47L167.91 661.7L168.5 656.26L169.62 652.62L170.8 650.18L172 649.21L173.2 647.69L174.35 643.31L175.5 640.36L176.72 643.57L177.9 647.31L178.82 650.16L179.7 652.12L180.62 650.77L181.6 649.09L182.76 650.04L184 652.98L184.83 655.67L185.88 658.96L186.8 662.01L187.54 662.68L188.52 662.96L189.51 664.37L190.3 665.64L191.09 665.62L192.1 665.8L193.08 665.55L193.8 665.44L195.05 663.05L196.2 659.89L197.35 659.09L198.5 658.81L199.7 657.57L200.9 656.8L202.03 659.05L203.2 662.64L204.01 664.48L205.04 666.38L206 667.4L206.89 667.23L208.12 666.65L209.36 666.04L210.3 665.28L211.08 665.87L211.98 666.63L212.92 667.12L213.8 666.98L214.55 666.83L215.6 667.03L216.79 667.07L217.97 667.37L218.99 667.32L219.7 667.27L220.65 667.08L221.52 666.93L222.3 666.29L223.07 666.68L224.11 667.62L225.15 668.14L225.9 667.47L227.1 662.52L228.2 654.66L229.42 639.1L230.6 624.07L231.51 616.33L232.4 612.36L233.5 616.77L234.6 626.18L235.49 643.27L236.4 659L237.47 662.82L238.8 664.49L239.52 664.79L240.54 664.9L241.67 665.71L242.72 665.84L243.5 665.67L244.36 666.07L245.35 666.23L246.3 666.53L247 666.09L248.2 665.02L249.3 663.75L250.5 663L251.7 661.98L252.85 662.94L254 664.82L255.18 666.58L256.4 667.74L257.26 667.63L258.33 666.19L259.2 665.11L260.01 664.01L260.99 662.13L261.8 660.8L262.61 662.4L263.63 664.69L264.6 666.16L265.29 666.79L266.24 666.99L267.3 667.71L268.37 667.9L269.3 667.72L270.06 667.54L271.09 667.77L272.28 667.25L273.52 666.58L274.69 666.92L275.69 666.7L276.4 666.32L277.35 665.86L278.31 665.73L279.18 665.07L279.9 664.98L280.64 665.16L281.54 665.7L282.51 665.76L283.4 666.01L284.13 666.9L285.14 667.68L286.3 667.67L287.46 667.8L288.51 668.25L289.3 667.91L290.19 667.5L291.25 667.31L292.35 666.67L293.32 665.86L294 665.27L295.25 662.14L296.3 658.34L297.5 655.3L298.7 653.89L299.85 656.24L301 659L302.1 662.85L303.4 666.2L304.02 667.09L304.86 667.44L305.85 667.79L306.92 667.69L308 667.37L308.59 668.01L309.36 668.12L310.28 668.17L311.31 667.39L312.42 668.02L313.56 667.79L314.71 668.07L315.82 668.13L316.87 667.6L317.8 667.29L318.6 666.85L319.32 667.12L320.18 667.62L321.13 667.87L322.16 667.83L323.25 667.82L324.37 667.44L325.49 667.67L326.6 667.81L327.67 667.97L328.68 668.46L329.6 667.97L330.4 667.91L331.12 668.22L331.98 668.28L332.96 667.63L334.03 667.42L335.17 667.08L336.35 667L337.54 666.97L338.72 666.73L339.85 666.55L340.92 666.23L341.9 666.79L342.76 667.1L343.46 666.61L344 666.36L345.21 666.66L346.03 667.08L346.83 667.81L348 667.87L348.55 667.83L349.28 668.03L350.16 667.31L351.17 667.35L352.26 667.56L353.41 668.08L354.61 667.82L355.81 667.32L356.98 666.96L358.11 667.15L359.16 667.17L360.1 666.91L360.9 667.5L361.64 667.51L362.49 667.43L363.45 667.44L364.48 667.23L365.57 667.07L366.7 667.22L367.86 667.61L369.02 667.92L370.16 667.72L371.27 667.75L372.33 667.97L373.32 667.85L374.21 668.09L375 667.97L375.72 668.09L376.51 667.8L377.36 667.85L378.27 667.21L379.23 667.37L380.23 667.34L381.27 668.07L382.34 667.99L383.43 667.77L384.53 667.5L385.64 667.45L386.75 667.84L387.85 667.96L388.94 667.85L390 667.94L390.57 667.46L391.21 667.33L391.93 667.26L392.71 667.3L393.56 667.83L394.46 667.98L395.42 667.74L396.43 667.29L397.47 667.07L398.56 667.34L399.67 667.52L400.81 667.51L401.97 667.2L403.15 666.95L404.34 667.14L405.54 667.58L406.74 667.5L407.93 667.57L409.11 667.4L410.28 667.39L411.43 666.93L412.55 667.68L413.64 667.54L414.7 667.33L415.71 667.09L416.68 667.41L417.6 667.49L418.46 667.5L419.27 667.43L420 667.91L420.73 667.28L421.51 667.4L422.35 667.4L423.24 666.82L424.17 667.15L425.14 667.21L426.14 667.01L427.18 667.01L428.24 667.18L429.33 667.3L430.44 667.57L431.57 666.78L432.71 666.89L433.85 667.02L435 667.11L436.15 667.18L437.29 666.73L438.43 666.55L439.56 666.67L440.67 666.37L441.76 667.34L442.82 667.28L443.86 667.39L444.86 666.46L445.83 666.56L446.76 666.78L447.65 666.87L448.49 667.01L449.27 666.87L450 667.17L450.74 667.01L451.54 666.78L452.41 667.11L453.33 666.68L454.31 667.24L455.34 666.95L456.4 667.04L457.51 666.89L458.64 666.78L459.8 666.5L460.98 666.41L462.17 666.27L463.38 666.47L464.58 666.16L465.79 666.85L466.99 666.72L468.17 666.97L469.34 666.79L470.48 666.41L471.6 665.65L472.68 666.16L473.72 666.89L474.72 666.64L475.67 666.2L476.56 666.15L477.39 666.61L478.16 666.23L478.85 665.47L479.47 665.37L480 666.22L481.23 666.33L482.47 666.13L483.69 666.33L484.89 666.32L486.05 666.19L487.16 665.91L488.21 666.08L489.18 666.41L490.06 665.68L490.83 665.18L491.48 665.54L492 665.77L493.5 665.07L494.55 664.78L495.4 664.45L495.9 664.66L496.43 664.51L497.34 664.83L499 665.54L499.47 665.73L500.05 665.98L500.72 666.24L501.49 666L502.35 665.66L503.28 665.88L504.27 665.59L505.32 665.23L506.41 665.51L507.55 665.5L508.71 665.35L509.9 665.85L511.09 665.21L512.29 665.61L513.48 665.54L514.66 665.05L515.81 665.4L516.93 665.31L518.01 665.45L519.03 666.1L520 665.79L520.6 665.37L521.28 665.3L522.03 665.69L522.85 665.48L523.73 665.3L524.66 665.47L525.65 664.78L526.69 665.21L527.78 665.21L528.9 664.66L530.05 664.5L531.23 664.67L532.44 665.38L533.66 665.14L534.9 664.47L536.14 664.84L537.4 664.99L538.64 664.94L539.89 664.63L541.12 664.65L542.34 664.84L543.54 664.43L544.71 664.74L545.85 664.94L546.95 664.8L548.02 664.94L549.04 665.06L550.01 664.67L550.93 664.71L551.78 664.45L552.58 664.47L553.3 664.78L553.95 664.1L554.52 664.33L555 664.48L556.55 664.38L557.82 664.25L558.86 664.15L559.75 664.34L560.55 664.32L561.32 663.67L562.12 663.64L563.03 663.09L564.1 663.59L564.66 663.62L565.33 663.84L566.11 664.1L566.97 663.48L567.91 663.3L568.91 663.47L569.98 663.28L571.09 663.39L572.25 663.44L573.42 663.4L574.62 663.68L575.82 663.14L577.02 663.36L578.2 663.39L579.36 663.14L580.48 662.76L581.56 663L582.58 662.64L583.53 662.81L584.41 663.66L585.2 663.73L585.89 662.85L586.66 662.75L587.49 662.76L588.39 662.86L589.34 663.02L590.34 662.59L591.37 663.04L592.45 662.35L593.55 662.56L594.67 662.87L595.81 662.81L596.95 662.67L598.09 662.55L599.23 662.88L600.35 662.57L601.45 662.52L602.53 662.2L603.56 661.99L604.56 661.63L605.51 661.85L606.41 661.74L607.24 662.18L608.01 662.24L608.7 662.16L609.49 662.05L610.38 662.34L611.34 662.26L612.38 661.72L613.47 662.23L614.61 662.75L615.78 662.39L616.98 662.13L618.2 661.37L619.41 660.83L620.62 661.17L621.81 661.43L622.97 661.33L624.09 661.74L625.15 661.22L626.15 661.87L627.07 661.47L627.91 660.93L628.65 661.03L629.29 660.91L629.8 661.27L631.24 661.31L632.42 660.82L633.41 660.72L634.26 660.15L635 660.06L635.7 659.76L636.45 659.72L637.32 660.21L638.29 660.95L639.34 661.13L640.45 661.48L641.6 661.63L642.18 661.33L642.91 661.56L643.78 661.15L644.75 661.42L645.8 661.25L646.92 661.43L648.09 661.09L649.28 660.66L650.47 660.57L651.64 660.03L652.77 660.46L653.84 660.32L654.82 660.16L655.7 660.19L656.36 659.82L657.13 659.98L657.99 660.43L658.93 660.38L659.94 659.86L661 659.82L662.11 660.12L663.25 659.65L664.41 660.09L665.58 660.01L666.74 659.51L667.89 659.72L669.01 659.75L670.08 659.68L671.1 659.87L672.06 659.9L672.93 659.53L673.72 659.68L674.4 659.48L675.26 660.03L676.24 659.97L677.32 658.99L678.47 659.27L679.67 659.65L680.91 659.29L682.15 659.11L683.38 659.51L684.57 659.75L685.7 659.84L686.75 659.75L687.7 659.39L688.52 659.1L689.2 658.33L689.7 658.78L691.41 657.95L692 655.86L693.15 654.18L694.4 652.7L695.1 652.96L696.05 654.09L697.05 654.72L697.9 655.1L698.65 655.38L699.65 655.11L700.75 654.63L701.78 654.37L702.6 653.94L703.43 654.13L704.49 654.31L705.6 653.6L706.6 653.25L707.3 652.73L708.63 651.84L709.7 651.14L710.71 648.66L711.5 646.42M64.7 776.3L65.69 774.62L67 772.56L67.74 772.13L68.75 771.4L69.78 770.66L70.6 770.4L71.38 769.99L72.35 769.07L73.33 768.61L74.1 768.65L74.86 769.17L75.8 770.16L76.76 771.65L77.6 772.9L78.35 773.72L79.35 774.93L80.45 776.25L81.48 777.94L82.3 778.82L83.07 779.15L83.99 779.44L85.01 779.75L86.04 779.66L87 779.69L87.73 780.07L88.72 779.97L89.9 779.72L91.15 779.75L92.4 779.93L93.55 779.73L94.52 779.47L95.2 779.4L96.19 779.38L97.1 779.67L97.94 780.35L98.7 780.58L99.41 780.83L100.33 781.33L101.37 781.77L102.42 782.26L103.4 782.43L104.12 782.46L105.09 782.58L106.22 782.75L107.45 782.82L108.69 782.57L109.86 782.74L110.89 782.52L111.7 782.45L112.59 782.68L113.65 782.61L114.82 782.56L115.99 782.86L117.09 782.8L118.02 782.79L118.7 782.71L119.61 782.44L120.5 781.98L121.36 781.78L122.2 781.51L122.93 781.5L123.94 781.05L125.1 780.88L126.26 780.71L127.31 780.71L128.1 780.4L128.96 780.46L129.97 780.4L131.03 780.62L132.01 780.46L132.8 780.89L133.58 781.43L134.54 781.79L135.57 782.44L136.59 782.97L137.5 783.22L138.24 783.27L139.22 783.59L140.35 783.77L141.54 783.86L142.69 783.96L143.71 784.14L144.5 784.24L145.37 784.05L146.42 783.8L147.55 783.44L148.66 782.96L149.64 782.87L150.4 782.61L151.27 782.4L152.31 782.1L153.39 781.71L154.36 781.44L155.1 780.97L155.92 780.49L156.85 780.39L157.78 779.85L158.6 779.44L159.36 778.72L160.39 777.52L161.51 776.53L162.54 775.63L163.3 774.96L164.13 775.36L165.1 776.84L166.04 778.09L166.8 778.75L167.54 779.68L168.45 780.56L169.43 781.77L170.4 782.55L171.11 782.67L172.11 782.76L173.29 783.25L174.52 783.35L175.69 783.24L176.69 783.67L177.4 783.4L178.37 783.08L179.35 782.26L180.24 781.7L180.9 780.93L182.13 778.52L183.3 776.32L184.15 775.04L185.21 774.1L186.1 774.11L187.04 776.13L188.19 778.86L189.1 781.11L190.12 782.88L191.5 783.92L192.17 784.04L193.15 784.18L194.33 784.02L195.58 783.71L196.77 783.84L197.78 783.79L198.5 783.77L199.43 783.48L200.35 783.26L201.22 782.81L202 782.49L202.74 782.21L203.71 781.4L204.79 780.91L205.83 780.06L206.7 779.19L207.49 778.73L208.54 778.29L209.7 777.62L210.86 777.27L211.87 776.93L212.6 776.71L213.49 776.94L214.45 778.22L215.36 779.22L216.1 779.7L216.9 780.07L217.92 780.02L218.92 779.85L219.7 779.78L220.71 780.42L221.88 781.06L222.8 780.96L224.03 778.1L225.2 774.76L226.32 772.35L227.5 771.1L228.44 772.42L229.66 775.44L230.6 777.63L231.81 780.27L232.9 780.98L233.77 777.36L234.6 770.41L235.49 752.98L236.4 735.04L237.35 725.59L238.3 720.59L239.24 725.87L240.2 735.52L241.23 752.9L242.3 770.26L243.44 776.69L244.7 779.89L245.42 780.58L246.4 780.99L247.41 780.87L248.2 780.69L249 780.68L250 780.95L250.98 780.62L251.7 779.71L252.88 775.25L254 770.08L254.88 766.54L256 762.36L256.9 760.01L257.69 761.62L258.61 765.34L259.4 768.35L260.27 771.46L261.36 775.2L262.3 777.67L263.06 778.01L264.05 777.99L265.04 777.96L265.8 777.59L266.73 776.73L267.83 775.51L268.8 775.15L269.63 775.73L270.73 777.06L271.86 778.85L272.8 779.74L273.59 779.47L274.62 778.9L275.72 778.55L276.74 777.96L277.5 777.55L278.32 777.87L279.25 778.31L280.18 778.72L281 778.73L281.76 778.08L282.79 777.02L283.9 776.51L284.93 776.09L285.7 775.73L286.52 775.88L287.45 777.49L288.41 778.49L289.3 779.48L290.03 779.14L291.05 778.8L292.2 778.59L293.35 778.04L294.37 778.15L295.1 777.99L296 778.14L296.98 778.06L297.92 777.79L298.7 777.19L299.56 776.54L300.67 775.54L301.77 774.35L302.6 773.75L303.6 775.09L304.74 776.83L305.7 778.32L306.44 778.85L307.38 779.05L308.36 779.33L309.2 779.47L309.95 779.27L310.95 779.06L312.05 779.11L313.08 779.1L313.9 778.81L314.7 778.71L315.71 778.59L316.79 778.51L317.8 778.21L318.6 778.12L319.42 777.85L320.45 777.53L321.55 777.19L322.55 776.49L323.3 776.33L324.15 775.94L325.15 775.98L326.1 775.79L326.8 774.97L328 770.87L329.2 767.94L329.9 768.33L330.85 769.71L331.85 771.61L332.7 772.88L333.45 773.32L334.45 773.72L335.55 774.1L336.58 774.51L337.4 774.86L338.2 775.46L339.21 775.93L340.29 776.38L341.3 776.83L342.1 777.45L342.9 777.8L343.91 777.99L344.99 778.13L346 778.15L346.8 777.7L347.6 777.45L348.61 776.96L349.69 776.64L350.7 775.97L351.5 775.88L352.3 775.89L353.31 776.57L354.39 777.13L355.4 777.87L356.2 778.19L357.03 778.72L358.09 778.98L359.21 779.46L360.2 779.85L360.9 779.9L362.1 778.3L363.2 777.06L363.88 777.64L364.79 778.23L365.79 778.82L366.7 779.36L367.41 779.52L368.38 779.47L369.49 779.38L370.64 779.48L371.71 779.44L372.6 779.2L373.4 779.28L374.43 779.3L375.6 779.24L376.81 779.39L377.96 779.36L378.95 779.15L379.7 779.18L380.61 779.47L381.61 779.35L382.64 779.44L383.6 779.32L384.4 779.31L385.3 779.72L386.47 779.59L387.73 780.04L388.87 780.22L389.7 780.65L390.57 780.43L391.53 780.3L392.45 780.27L393.2 779.8L393.96 778.94L394.9 777.54L395.86 775.87L396.7 775.1L397.44 775L398.41 775.53L399.49 775.89L400.53 776.52L401.4 777.08L402.19 777.09L403.22 777.5L404.38 778.1L405.53 778.5L406.55 778.97L407.3 779.03L408.3 777.85L409.43 776.54L410.49 775.34L411.3 774.94L412.21 775.66L413.24 777.17L414.3 778.05L414.97 778.2L415.89 778.6L416.97 778.63L418.11 778.9L419.22 778.96L420.2 779.21L420.92 779.07L421.85 779.09L422.94 778.89L424.13 778.55L425.37 778.59L426.58 778.44L427.73 778.4L428.76 778.28L429.6 778.49L430.43 778.37L431.42 778.4L432.52 778.56L433.7 778.58L434.9 779.01L436.08 779.49L437.18 779.53L438.17 779.71L439 779.86L439.84 779.77L440.85 779.65L441.99 779.86L443.19 780.06L444.41 780.2L445.6 780.1L446.69 779.82L447.65 779.89L448.4 779.85L449.33 779.77L450.43 779.33L451.61 779.18L452.79 778.56L453.87 778.2L454.77 777.64L455.4 777.41L456.82 775.66L457.8 773.92L458.73 772.31L459.7 771.54L460.48 772.81L461.51 775.18L462.5 776.76L463.17 777.4L464.06 777.86L465.09 778.43L466.16 778.91L467.2 779.04L467.88 778.93L468.8 778.86L469.88 778.97L471.07 778.77L472.32 778.65L473.55 778.42L474.72 778.35L475.75 778.15L476.6 778.11L477.42 778.05L478.39 778.15L479.46 778.5L480.61 778.77L481.79 779.15L482.96 779.57L484.07 779.81L485.1 779.83L486 780.1L486.71 779.93L487.57 779.8L488.56 779.59L489.64 779.45L490.79 779.07L491.95 778.99L493.12 778.84L494.24 778.79L495.3 778.53L496.25 778.4L497.06 778.21L497.7 778.13L498.7 778.22L499.8 778.88L500.94 778.86L502.06 779.01L503.1 779.62L504 779.88L504.7 779.88L505.62 779.68L506.67 779.08L507.72 778.66L508.67 777.94L509.4 777.57L510.23 777.27L511.2 776.39L512.17 776.06L513 776.04L513.72 776.02L514.64 776.47L515.67 776.99L516.73 777.81L517.7 778.32L518.38 778.54L519.25 778.52L520.27 778.75L521.39 778.92L522.56 779.05L523.73 779.07L524.86 779.36L525.9 779.46L526.55 779.43L527.36 779.25L528.32 779.4L529.38 779.49L530.52 779.57L531.72 779.51L532.95 779.61L534.18 779.48L535.38 779.34L536.52 779.47L537.58 779.23L538.54 779.18L539.35 779.11L540 779.03L541.04 778.75L542.18 778.67L543.37 778.54L544.55 778.12L545.68 778.18L546.69 778L547.55 777.6L548.2 777.69L549.2 777.63L550.13 777.42L551.05 777.36L552 777.6L552.69 777.62L553.6 777.96L554.67 778.23L555.85 778.42L557.06 778.67L558.27 778.99L559.4 779.15L560.01 779.34L560.77 779.31L561.64 779.19L562.62 779.39L563.68 779.12L564.79 779.15L565.95 779.35L567.13 779.11L568.31 779.27L569.46 779.4L570.58 779.07L571.64 779.3L572.62 779.24L573.5 779.49L574.16 779.42L574.93 779.44L575.79 779.68L576.73 779.34L577.74 779.41L578.8 779.26L579.91 779.35L581.05 779.53L582.21 779.32L583.38 779.22L584.55 779.18L585.7 779.25L586.82 779.28L587.91 779.16L588.94 779.36L589.9 779.39L590.79 779.46L591.6 779.58L592.3 779.23L593.12 779.23L594.03 779.47L595.01 779.35L596.06 779.26L597.15 779.09L598.28 779.01L599.44 778.97L600.6 779.22L601.77 779.32L602.91 778.81L604.03 778.59L605.1 778.72L606.12 778.4L607.07 778.62L607.93 778.52L608.7 778.67L609.48 778.58L610.36 778.57L611.33 778.66L612.38 778.71L613.48 778.63L614.63 778.49L615.81 778.66L617 778.53L618.19 778.39L619.36 778.46L620.49 778.61L621.57 778.34L622.59 778.17L623.53 777.83L624.37 778.05L625.1 778.25L625.92 777.96L626.85 778.32L627.87 778.35L628.95 778.23L630.08 778.01L631.24 778.29L632.4 778.43L633.56 778.39L634.69 778.22L635.77 778.42L636.78 778.6L637.7 778.4L638.51 778.59L639.2 778.42L640.05 778.14L641.02 778.03L642.07 777.82L643.17 777.63L644.3 777.44L645.41 777.14L646.49 776.77L647.5 776.76L648.41 776.4L649.18 776.19L649.8 776.27L650.76 776.37L651.73 776.5L652.7 776.55L653.69 776.97L654.68 777.24L655.7 777.58L656.3 777.57L657.07 777.59L657.97 777.72L658.98 777.75L660.06 777.82L661.19 777.85L662.34 777.92L663.49 777.97L664.59 777.94L665.63 778.26L666.58 778.04L667.4 778.02L668.11 778.21L668.96 778.33L669.9 778.44L670.94 778.01L672.03 778.1L673.18 778.22L674.35 778.14L675.52 777.94L676.67 778.19L677.79 778.4L678.86 778.27L679.84 778.01L680.73 777.88L681.5 777.93L682.28 777.87L683.19 777.95L684.2 777.99L685.3 777.88L686.46 777.86L687.66 777.62L688.86 777.46L690.05 777.59L691.21 777.47L692.3 777.45L693.31 777.16L694.22 777.02L694.99 777.01L695.6 776.91L696.69 776.98L697.83 776.37L698.96 776.2L700.05 775.88L701.05 775.64L701.91 775.38L702.6 775.3L703.52 774.45L704.57 773.75L705.63 772.9L706.57 772.05L707.3 771.62L708.18 771.02L709.21 770.07L710.17 769.24L710.8 768.66L711.8 769.42M62.3 870.6L62.92 870.85L63.95 872.1L65.05 873.12L65.9 873.4L66.68 873.89L67.65 874.37L68.63 874.92L69.4 875.05L70.19 874.54L71.2 874.55L72.18 874.44L72.9 873.93L74.12 872.76L75.3 871.35L76.21 870.58L77.36 869.72L78.3 868.94L79.16 869.78L80.19 871.44L81.1 873.28L81.84 874.78L82.82 877.01L83.84 879.55L84.7 880.91L85.44 882.07L86.42 883.21L87.49 884.32L88.5 885.66L89.3 886.8L90.09 887.17L91.07 888.45L92.12 889.39L93.14 890.08L94 890.09L94.78 890.3L95.8 890.61L96.95 890.28L98.1 890.11L99.12 890.28L99.9 889.92L100.77 888.62L101.81 888.13L102.89 887.3L103.86 886.76L104.6 886.55L105.42 887.25L106.35 888L107.28 889.23L108.1 890.02L108.85 889.82L109.85 889.28L110.95 889.07L111.98 889.18L112.8 888.79L113.62 889.19L114.65 890L115.75 890.18L116.75 890.41L117.5 890.24L118.32 890.22L119.27 888.78L120.2 887.6L121 886.6L121.93 886L123.16 885.32L124.38 884.94L125.3 884.91L126.39 884.35L127.61 883.88L128.6 883.8L129.54 884.33L130.65 884.78L131.6 885.02L132.33 885.93L133.28 887.61L134.26 889.44L135.1 890.13L135.8 890.66L136.69 892.03L137.71 893.27L138.77 893.95L139.8 894.89L140.48 895.07L141.4 895.24L142.48 894.9L143.67 895.24L144.92 895.18L146.15 895.29L147.32 895.84L148.35 895.87L149.2 896.2L150.03 896.17L151.02 896.39L152.12 896.35L153.3 896.66L154.5 897.26L155.68 897.23L156.78 897.74L157.77 897.97L158.6 897.43L159.43 897.46L160.42 897.58L161.52 897.49L162.7 898L163.9 898.36L165.08 898.11L166.18 898.07L167.17 898.44L168 898.57L168.86 898.25L169.91 898.01L171.11 897.95L172.37 897.92L173.64 897.82L174.84 897.67L175.92 897.46L176.79 897.39L177.4 897.48L178.86 895.31L179.7 890.51L180.87 877.33L182.1 861.59L183 851.21L184.16 839.1L185.1 832.66L186.02 838.45L187.13 851.52L188 861.6L189.14 874.68L190.3 885.49L191.23 889.64L192.43 893.9L193.4 896.21L194.26 896.08L195.27 895.86L196.2 895.29L197.03 894.66L198.14 894.05L199.28 893.62L200.2 893.14L201.09 893.34L202.22 893.97L203.38 894.88L204.4 895.52L205.17 895.01L206.21 895.47L207.38 895.98L208.54 895.95L209.56 896.08L210.3 895.59L211.18 895.55L212.1 895.86L213 895.87L213.8 895.85L214.56 896.06L215.59 896.75L216.71 897.2L217.74 897.1L218.5 897.67L219.35 897.9L220.34 898.2L221.28 898.41L222 898.72L222.89 898.93L223.9 899.56L224.7 899.85L225.84 898.5L227 896.05L227.89 893.24L229.01 889.29L229.9 886.53L231.07 884.15L232.2 883.54L233.4 887.5L234.6 891.15L235.77 888.2L236.9 882.81L237.87 876.9L238.8 870.93L239.75 867.41L240.7 865.39L241.59 868.7L242.5 873.89L243.58 882.32L244.7 890.23L245.85 893.48L247 894.39L248.18 889.78L249.3 884.5L250.17 882.77L251 881.7L251.92 883.77L252.9 886.6L254 889.45L255.2 892.59L256.13 891.76L257.33 890.55L258.3 890L259.2 891.19L260.26 892.89L261.1 894.68L262.27 896.16L263.4 896.68L264.55 896.06L265.8 895.68L266.46 895.77L267.34 897.5L268.33 898.89L269.3 899.77L270 900.05L270.99 900.02L272.14 899.6L273.36 899.33L274.55 899.4L275.6 898.85L276.4 898.33L277.27 898.56L278.32 899.12L279.44 899.3L280.52 899.64L281.48 899.55L282.2 898.67L283.2 897.37L284.35 894.98L285.42 892.44L286.2 890.91L287.42 892.05L288.6 892.8L289.33 891.92L290.32 891.1L291.33 889.72L292.1 889.48L293.04 890.97L294.15 892.39L295.1 893.88L295.89 894.79L296.93 895.83L297.96 896.47L298.7 896.89L299.87 897.18L301 896.99L301.92 895.79L303.11 894.03L304.1 892.91L305.09 894.17L306.31 895.9L307.3 897.21L308.26 897.39L309.42 896.56L310.4 896.13L311.15 896.34L312.1 897.76L313.08 898.67L313.9 899L314.81 899.51L316.01 899.7L317.2 898.91L318.1 898.23L319.18 894.85L320.41 890.1L321.4 886.84L322.3 888.93L323.4 893.51L324.5 897.21L325.23 897.7L326.25 897.96L327.43 898.62L328.62 899.16L329.66 899.09L330.4 898.92L331.31 899.97L332.29 899.91L333.2 899.39L333.9 898.59L334.81 892.24L335.86 883.61L336.7 879.41L337.51 882.9L338.49 890.47L339.3 896.22L340.14 897.79L341.19 898.87L342.1 898.65L342.82 898.97L343.77 898.88L344.75 897.64L345.6 897.33L346.35 897.49L347.35 896.33L348.45 895.32L349.48 894.78L350.3 894.46L351.12 895.13L352.15 895.71L353.25 897.18L354.25 898.37L355 898.57L355.84 898.83L356.8 898.49L357.74 897.62L358.5 897.17L359.26 896.48L360.2 894.62L361.16 893.77L362 893.47L362.74 894.2L363.71 894.96L364.79 895.91L365.83 897.48L366.7 897.88L367.47 898.63L368.47 898.91L369.6 899.19L370.73 899.4L371.77 899.82L372.6 899.73L373.44 899.71L374.5 899.73L375.66 900.11L376.79 899.88L377.78 899.85L378.5 898.92L379.41 896.25L380.4 891.69L381.32 887.02L382 884.68L383.25 889.15L384.4 894.78L385.58 896.76L386.7 897.98L387.56 896.96L388.5 895.86L389.4 895.71L390.62 895.61L391.6 895.33L392.41 895.74L393.38 897L394.4 898.05L395.12 898.5L396.15 898.9L397.34 899.1L398.53 899.3L399.57 899.37L400.3 899.39L401.39 898.45L402.45 896.13L403.3 894.56L404.16 893.82L405.19 892.25L406.1 891.41L406.84 892.45L407.82 894.14L408.84 894.87L409.7 895.95L410.43 896.59L411.38 896.97L412.43 897.91L413.44 898.34L414.3 898.49L415.06 898.63L416.04 898.92L417.14 898.81L418.27 898.92L419.32 898.53L420.2 897.92L420.98 897.87L421.98 898.06L423.11 897.76L424.29 897.77L425.44 896.98L426.47 896.71L427.3 896.5L428.13 896.42L429.14 896.75L430.27 897.59L431.43 897.62L432.54 897.63L433.52 897.91L434.3 897.73L435.17 897.67L436.22 897.89L437.35 897.6L438.46 896.52L439.44 896.01L440.2 896.12L440.99 896.65L441.88 897.44L442.84 897.82L443.85 898.44L444.9 898.72L445.49 898.89L446.27 898.62L447.21 898.39L448.25 898.28L449.37 898.49L450.52 897.96L451.67 898.13L452.77 897.96L453.78 897.63L454.67 897.81L455.4 897.6L456.28 897.74L457.33 897.85L458.5 897.72L459.73 897.43L460.97 896.72L462.15 896.54L463.22 896.89L464.12 896.85L464.8 896.57L465.8 896.53L466.81 896.6L467.79 897.17L468.69 897.39L469.5 897.66L470.3 897.6L471.37 897.66L472.56 897.96L473.72 897.85L474.72 897.66L475.4 897.12L476.73 894.39L477.7 891.52L478.57 889.49L479.4 888.6L480.32 889.77L481.3 892.26L482.22 894.86L483.6 896.73L484.22 896.72L485.1 896.93L486.16 896.49L487.33 896.18L488.53 896.27L489.67 896.25L490.7 896.15L491.34 896.06L492.14 895.87L493.07 896.06L494.1 896.45L495.2 896.08L496.35 895.87L497.5 896.01L498.64 895.98L499.73 896.26L500.74 896.55L501.64 896L502.4 896.1L503.15 896.16L504.02 895.84L504.99 895.56L506.04 895.84L507.13 895.78L508.25 895.78L509.36 895.23L510.45 894.81L511.5 894.81L512.47 895.18L513.35 895.08L514.1 894.48L514.86 894.53L515.74 894.62L516.71 895.01L517.77 894.99L518.87 894.67L520 894.25L521.13 894.78L522.23 895.06L523.29 894.94L524.26 894.84L525.14 894.79L525.9 895.07L526.65 895L527.53 895.04L528.5 895.28L529.54 894.92L530.63 895.16L531.75 895.24L532.87 894.58L533.96 894.52L535 894.49L535.97 894.57L536.85 894.36L537.6 894.47L538.35 894.39L539.23 894.45L540.21 894.19L541.25 894.03L542.35 894.5L543.47 894.64L544.6 894.54L545.7 894.27L546.76 894.27L547.74 894.27L548.63 893.94L549.4 893.78L550.18 893.82L551.09 894.21L552.11 894.02L553.21 893.78L554.37 893.58L555.55 893.56L556.73 893.64L557.89 893.2L558.99 892.85L560.01 893.3L560.92 893.22L561.7 892.99L562.49 892.76L563.43 892.8L564.49 892.97L565.63 893.22L566.82 893.03L568.02 893.03L569.19 893.02L570.31 892.71L571.33 892.9L572.23 892.23L572.96 892.39L573.5 892.8L574.83 891.08L575.65 888.7L576.3 886.45L577.22 885.12L578.36 883.35L579.3 882.41L580.24 883.25L581.39 885.46L582.4 886.78L583.21 887.95L584.28 889.29L585.4 890.55L586.4 891.78L587.1 891.71L587.99 892L589.01 892.05L590.11 892.32L591.23 892.03L592.3 891.41L592.9 891.54L593.65 891.59L594.53 891.75L595.52 891.91L596.58 891.66L597.69 891.17L598.83 890.9L599.97 890.66L601.08 890.73L602.14 891.06L603.12 890.77L604 890.42L604.68 890.89L605.48 890.72L606.38 890.36L607.37 890.16L608.43 890.21L609.55 890.39L610.71 889.94L611.89 890.33L613.08 890.1L614.27 889.85L615.44 889.97L616.57 889.81L617.64 889.8L618.65 889.94L619.58 889.54L620.4 889.68L621.11 889.47L621.92 889.68L622.83 889.65L623.82 889.95L624.88 889.95L625.99 889.76L627.14 889.61L628.32 889.42L629.51 889.19L630.7 889.04L631.88 889.1L633.03 888.97L634.14 889.04L635.2 888.14L636.19 888.18L637.1 888.5L637.91 888.48L638.62 887.88L639.2 888.17L640.35 887.99L641.56 887.49L642.81 886.74L644.04 886.46L645.22 886.07L646.31 885.98L647.26 885.51L648.04 885.46L648.6 885.75L649.87 885.98L650.5 886.33L651.5 884.15L652.6 881.72L653.47 881.9L654.63 882.73L655.7 883.53L656.41 884.16L657.35 884.55L658.42 885.12L659.47 886.01L660.4 886.49L661.12 886.41L662.05 885.92L663.13 885.72L664.27 886.16L665.41 885.62L666.48 885.41L667.4 885.39L668.15 885.26L669.11 885.11L670.2 885.34L671.39 885.09L672.61 884.42L673.81 884.17L674.95 884.1L675.96 883.88L676.8 883.44L677.63 883.71L678.62 883.82L679.72 883.53L680.9 883.67L682.1 883.96L683.28 883.88L684.38 883.43L685.37 883.75L686.2 883.6L687.04 883.44L688.05 883.39L689.19 882.89L690.39 882.45L691.61 882.56L692.8 882.35L693.89 881.85L694.85 881.74L695.6 881.38L696.52 881.18L697.59 880.38L698.73 879.79L699.87 879.19L700.95 878.15L701.88 877.77L702.6 877.24L703.53 876.77L704.59 876.1L705.66 875.6L706.61 875.04L707.3 874.79L708.31 873.88L709.35 872.85L710.1 871.1L711.5 864.29M64.5 1017C73.75 1017 99.25 1017 120 1017C140.75 1017 177.08 1017.08 189 1017C200.92 1016.92 190.62 1016.97 191.5 1016.5C192.38 1016.03 193.52 1015.57 194.3 1014.2C195.08 1012.83 195.62 1009.55 196.2 1008.3C196.78 1007.05 197.13 1006.3 197.8 1006.7C198.47 1007.1 199.3 1009.45 200.2 1010.7C201.1 1011.95 202.12 1013.23 203.2 1014.2C204.28 1015.17 205.57 1016.03 206.7 1016.5C207.83 1016.97 196.45 1016.92 210 1017C223.55 1017.08 274.6 1017.12 288 1017C301.4 1016.88 289.68 1016.77 290.4 1016.3C291.12 1015.83 291.7 1014.83 292.3 1014.2C292.9 1013.57 293.33 1012.3 294 1012.5C294.67 1012.7 295.6 1014.92 296.3 1015.4C297 1015.88 297.62 1019.52 298.2 1015.4C298.78 1011.28 299.33 999.9 299.8 990.7C300.27 981.5 300.57 967.43 301 960.2C301.43 952.97 301.93 947.3 302.4 947.3C302.87 947.3 303.37 953.75 303.8 960.2C304.23 966.65 304.48 978.18 305 986C305.52 993.82 306.2 1002.4 306.9 1007.1C307.6 1011.8 308.23 1012.63 309.2 1014.2C310.17 1015.77 311.23 1016.03 312.7 1016.5C314.17 1016.97 303.45 1016.92 318 1017C332.55 1017.08 381.33 1017.08 400 1017C418.67 1016.92 420 1016.53 430 1016.5C440 1016.47 448.33 1016.78 460 1016.8C471.67 1016.82 486.67 1016.57 500 1016.6C513.33 1016.63 523.33 1016.93 540 1017C556.67 1017.07 571.42 1017 600 1017C628.58 1017 692.92 1017 711.5 1017M67 1129L67.59 1128.78L68.55 1128.4L69.63 1127.98L70.6 1127.84L71.31 1127.82L72.26 1128.05L73.35 1128.26L74.47 1128.62L75.52 1128.82L76.4 1129.04L77.18 1129.16L78.18 1129.44L79.31 1129.74L80.49 1129.99L81.64 1130L82.67 1130.16L83.5 1130.74L84.31 1130.88L85.27 1130.89L86.34 1130.95L87.46 1131.31L88.56 1131.54L89.6 1131.8L90.5 1131.87L91.27 1131.88L92.27 1132.03L93.42 1131.97L94.67 1131.9L95.93 1131.91L97.16 1131.96L98.27 1131.68L99.21 1131.5L99.9 1131.44L100.92 1131.54L101.95 1131.39L102.95 1131.18L103.85 1130.96L104.6 1130.61L105.43 1130.35L106.48 1129.99L107.58 1129.72L108.58 1129.04L109.3 1128.36L110.28 1125.62L111.3 1121.59L112.1 1118.37L113.34 1113.63L114.5 1109.05L115.45 1105.86L116.4 1103.9L117.53 1105.64L118.7 1108.72L119.79 1113.58L121 1118.41L121.7 1119.94L122.65 1121.57L123.67 1123.09L124.6 1124.22L125.29 1124.66L126.2 1125.25L127.25 1125.88L128.35 1126.52L129.43 1126.91L130.4 1127.33L131.14 1127.6L132.11 1127.69L133.26 1127.99L134.51 1128.35L135.79 1128.49L137.03 1128.54L138.15 1128.77L139.1 1128.91L139.8 1128.93L140.82 1128.88L141.85 1128.86L142.85 1128.69L143.75 1128.52L144.5 1128.46L145.32 1128.58L146.35 1128.84L147.45 1129.28L148.45 1129.45L149.2 1129.59L150.03 1129.24L151 1128.78L151.94 1128.24L152.7 1127.64L153.5 1127.08L154.5 1125.96L155.5 1124.93L156.3 1124.31L157.06 1124.21L158 1124.66L158.97 1125.2L159.8 1125.58L160.57 1125.62L161.61 1125.81L162.73 1126.22L163.76 1126L164.5 1125.98L165.56 1125.64L166.68 1124.79L167.5 1123.17L168.4 1115.24L169.2 1106.68L170.13 1100.89L171.1 1097.49L172.1 1101.05L173.2 1106.7L174.08 1111.42L175.24 1117.56L176.2 1121.85L177.17 1123.69L178.35 1125.08L179.3 1125.68L180.17 1125.25L181.2 1124.19L182.1 1123.61L182.86 1123.8L183.87 1124.43L184.87 1124.91L185.6 1124.31L186.85 1117.1L188 1108.98L189.15 1103.86L190.3 1100.73L191.47 1103.61L192.7 1107.98L193.58 1110.92L194.7 1114.66L195.7 1117.25L196.55 1118.39L197.68 1119.27L198.82 1120.21L199.7 1120.81L200.5 1121.42L201.47 1122.29L202.43 1123.2L203.2 1123.61L203.99 1123.87L205 1123.82L205.98 1123.51L206.7 1122.62L207.95 1116.34L209.1 1109.97L210.25 1107.88L211.4 1107.24L212.55 1108.1L213.8 1110.32L214.52 1112.18L215.5 1115.22L216.51 1118.65L217.3 1120.77L218.07 1122.22L219.03 1123.78L220 1124.81L220.8 1125.48L221.67 1126.01L222.8 1126.51L223.91 1126.82L224.7 1126.68L225.94 1124.13L227 1121L227.88 1117.93L228.9 1115.64L229.69 1115.27L230.83 1115.42L232 1115.41L232.9 1115.71L233.7 1115.89L234.67 1116.59L235.63 1117.4L236.4 1118.23L237.2 1118.9L238.22 1120.17L239.23 1121.38L240 1122.11L240.97 1122.58L242.09 1123.14L243 1123.23L243.89 1121.69L244.95 1119.32L245.8 1117.42L247.02 1114.55L248.2 1112.47L249.33 1114.92L250.5 1118.33L251.34 1119.97L252.4 1121.63L253.3 1122.76L254.27 1123.07L255.47 1122.73L256.4 1121.83L257.55 1117.24L258.7 1111.47L259.63 1106.7L260.83 1100.85L261.8 1097.8L262.67 1099.23L263.7 1103.27L264.6 1106.64L265.32 1108.66L266.27 1111L267.25 1113.15L268.1 1114.89L268.84 1116L269.83 1117.43L270.91 1118.74L271.95 1119.94L272.8 1120.78L273.73 1121.52L274.95 1122.1L276.25 1122.76L277.4 1123.41L278.2 1123.51L279.54 1122.3L280.6 1120.9L281.73 1118.33L282.9 1116.11L283.76 1116.1L284.84 1116.8L285.7 1117.32L286.9 1117.98L288.1 1118.45L288.91 1117.76L289.95 1116.69L290.9 1116.12L291.74 1116.49L292.86 1117.57L294.06 1118.46L295.1 1119.32L295.85 1120.07L296.85 1120.75L297.98 1121.38L299.12 1122.17L300.17 1122.92L301 1123.18L301.84 1123.24L302.9 1123.51L304.05 1123.94L305.19 1124.07L306.18 1124.3L306.9 1124.42L307.79 1124.27L308.75 1124.22L309.66 1123.85L310.4 1123.1L311.17 1121.93L312.12 1120.44L313.09 1118.82L313.9 1117.95L314.83 1118.08L316.05 1118.84L317.25 1119.56L318.1 1119.74L319.38 1117.5L320.5 1114.86L321.63 1112.46L322.8 1110.7L323.62 1111.58L324.69 1113.44L325.7 1115.04L326.45 1116.07L327.49 1117.21L328.62 1118.56L329.66 1119.63L330.4 1120.33L331.36 1119.61L332.37 1117.68L333.2 1116.19L334.11 1113.85L335.24 1110.92L336.2 1109.39L336.93 1110.05L337.88 1111.64L338.86 1113.36L339.7 1114.97L340.46 1115.87L341.49 1117.39L342.6 1119.12L343.63 1120.36L344.4 1121.33L345.25 1121.73L346.25 1121.94L347.22 1122.05L348 1122.01L348.76 1122.05L349.7 1122.14L350.67 1122.39L351.5 1122.65L352.26 1123.05L353.29 1123.59L354.41 1124.14L355.44 1124.75L356.2 1125.09L357.04 1124.75L358 1124.15L358.94 1123.78L359.7 1123.68L360.44 1123.85L361.35 1124.02L362.31 1124.27L363.2 1124.29L363.92 1123.72L364.91 1122.75L366.04 1121.77L367.2 1120.76L368.26 1119.97L369.1 1119.69L369.91 1119.88L370.91 1120.25L372 1120.99L373.11 1121.65L374.14 1122.29L375 1122.76L375.77 1122.95L376.74 1123.11L377.84 1123.48L378.98 1123.87L380.11 1124.02L381.14 1124.26L382 1124.18L382.8 1124.31L383.82 1124.8L384.99 1125.04L386.22 1125.15L387.42 1125.66L388.5 1125.91L389.39 1125.88L390 1125.95L391.04 1125.76L392 1125.36L392.63 1125.41L393.54 1125.35L394.63 1125.35L395.83 1125.29L397.04 1125.22L398.16 1125.12L399.1 1124.97L399.87 1124.97L400.84 1124.79L401.97 1124.54L403.18 1124.39L404.43 1124.23L405.64 1123.89L406.76 1123.93L407.74 1123.7L408.5 1123.56L409.38 1123.66L410.37 1123.63L411.41 1123.73L412.49 1123.94L413.55 1124.11L414.57 1124.27L415.5 1124.34L416.18 1124.44L417.05 1124.58L418.08 1124.67L419.21 1124.6L420.4 1124.95L421.6 1125.07L422.77 1125.24L423.85 1125.21L424.79 1125.36L425.56 1125.45L426.1 1125.48L427.63 1124.59L428.4 1123.21L429.36 1120.99L430.3 1119.14L431.3 1120.81L432.4 1123.15L433.12 1124.03L434.13 1125.21L435.5 1125.91L436.04 1126.04L436.76 1126.32L437.64 1126.19L438.63 1126.13L439.71 1126.37L440.84 1126.56L441.98 1126.59L443.1 1126.79L444.17 1126.78L445.14 1126.67L446 1126.6L446.69 1126.61L447.51 1126.55L448.45 1126.81L449.47 1126.68L450.57 1126.96L451.72 1127.12L452.89 1126.96L454.07 1127.05L455.24 1127.1L456.37 1127.26L457.44 1127.17L458.43 1127.3L459.33 1127.34L460.1 1127.21L460.88 1127.22L461.79 1127.35L462.82 1127.52L463.93 1127.62L465.09 1127.91L466.3 1127.94L467.51 1127.87L468.71 1127.91L469.87 1127.98L470.96 1128.22L471.97 1128.19L472.86 1128.35L473.61 1128.49L474.2 1128.46L475.38 1128.48L476.54 1128.44L477.64 1128.27L478.63 1128.29L479.46 1128.29L480.1 1128.31L481.19 1127.71L482.25 1126.79L483.1 1126.13L483.96 1126.71L485 1127.9L486 1128.41L486.77 1128.4L487.87 1128.35L489.05 1128.22L490.1 1128.07L490.8 1127.62L491.7 1124.42L492.3 1120.9L493.7 1117.99L495 1121.67L495.7 1124.1L496.5 1126.5L497.14 1127.47L498.03 1128.45L499 1128.98L499.71 1129.14L500.74 1129.31L501.94 1129.48L503.13 1129.28L504.14 1128.95L504.8 1128.7L505.76 1126.93L506.3 1122.98L507.2 1098.81L508.2 1079.33L509.2 1073.12L510.1 1079.27L511.1 1093.91L512.1 1108.51L513.5 1119.06L514.43 1121.71L515.5 1123.82L516.36 1125.09L517.47 1126.36L518.4 1127.35L519.11 1127.97L520.01 1128.55L521.3 1128.78L521.92 1128.56L522.81 1128.57L523.9 1128.26L525.12 1128.25L526.42 1128.28L527.73 1128.2L528.97 1128.06L530.09 1127.88L531.02 1127.85L531.7 1127.65L532.76 1127.42L533.8 1127.18L534.78 1127.01L535.66 1126.81L536.4 1126.64L537.19 1126.85L538.17 1127.03L539.23 1127.34L540.24 1127.61L541.1 1127.75L541.86 1128L542.83 1128L543.92 1128.05L545.04 1128.26L546.1 1128.33L547 1128.38L547.73 1128.25L548.67 1128.15L549.75 1128.46L550.9 1128.4L552.05 1128.29L553.11 1128.12L554.02 1128.25L554.7 1128.18L555.53 1128.48L556.35 1128.89L557.21 1129.17L558.21 1129.51L559.4 1129.76L559.96 1129.77L560.68 1129.91L561.55 1129.91L562.53 1129.89L563.61 1129.98L564.75 1130.17L565.94 1130.11L567.15 1130L568.35 1130.1L569.53 1130.09L570.66 1130.07L571.71 1130.13L572.67 1130.14L573.5 1130.35L574.23 1130.29L575.08 1130.14L576.03 1129.93L577.06 1130.05L578.16 1130.09L579.31 1130.02L580.5 1129.79L581.7 1129.74L582.9 1129.46L584.09 1129.56L585.24 1129.5L586.34 1129.55L587.37 1129.74L588.32 1129.48L589.17 1129.48L589.9 1129.48L590.73 1129.49L591.68 1129.49L592.72 1129.54L593.84 1129.55L595.01 1129.62L596.21 1129.7L597.41 1129.9L598.59 1129.91L599.73 1129.92L600.81 1130.05L601.79 1130.12L602.67 1130.17L603.41 1130.25L604 1130.14L605.17 1130L606.32 1129.72L607.41 1129.3L608.4 1128.76L609.24 1128.56L609.9 1128.59L610.74 1128.76L611.6 1129.14L612.49 1129.97L613.4 1130.23L614.1 1130.24L615.07 1130.4L616.21 1130.55L617.42 1130.41L618.59 1130.47L619.62 1130.38L620.4 1130.17L621.41 1129.87L622.61 1129.38L623.84 1129.06L624.96 1128.87L625.8 1128.57L626.59 1128.8L627.42 1129.57L628.44 1130.21L629.8 1130.52L630.35 1130.58L631.07 1130.71L631.93 1130.68L632.92 1130.65L634 1130.59L635.16 1130.64L636.36 1130.62L637.58 1130.61L638.79 1130.76L639.97 1130.69L641.1 1130.59L642.15 1130.6L643.09 1130.77L643.9 1130.58L644.66 1130.53L645.56 1130.4L646.57 1130.46L647.67 1130.39L648.84 1130.23L650.06 1130.44L651.29 1130.2L652.53 1130.17L653.74 1130.2L654.9 1129.95L655.99 1130L656.99 1129.9L657.88 1129.75L658.62 1129.72L659.2 1129.61L660.41 1129.79L661.55 1130.07L662.61 1130.36L663.56 1130.54L664.36 1130.66L665 1130.71L665.91 1129.97L666.9 1128.81L667.84 1127.6L668.6 1127.19L669.28 1127.56L670.1 1128.43L671.03 1129.64L672.1 1130.35L672.73 1130.47L673.58 1130.48L674.6 1130.52L675.74 1130.54L676.95 1130.65L678.18 1130.75L679.38 1130.64L680.51 1130.79L681.5 1130.93L682.16 1130.9L682.96 1130.88L683.87 1130.77L684.88 1131L685.96 1130.96L687.1 1130.84L688.27 1130.59L689.44 1130.75L690.61 1130.78L691.75 1130.77L692.84 1130.76L693.86 1130.74L694.79 1130.76L695.6 1130.67L696.33 1130.63L697.21 1130.42L698.21 1130.35L699.3 1130.35L700.47 1130.29L701.68 1130.13L702.92 1130.12L704.17 1130.35L705.39 1130.02L706.58 1129.89L707.7 1130.06L708.73 1129.95L709.64 1129.95L710.43 1129.84L711.05 1129.88L711.5 1129.84" stroke="#000" stroke-width="2" fill="none" stroke-linejoin="round" stroke-linecap="round"/>
</svg></body></html>
